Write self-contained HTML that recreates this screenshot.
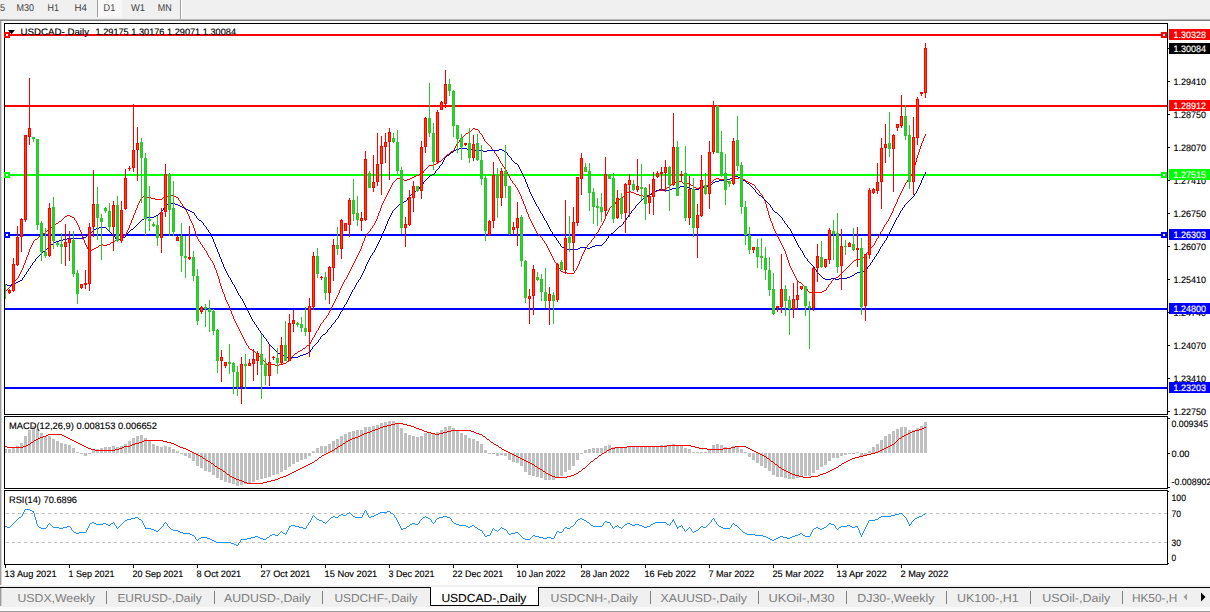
<!DOCTYPE html>
<html><head><meta charset="utf-8"><title>USDCAD-,Daily</title>
<style>html,body{margin:0;padding:0;background:#fff;overflow:hidden}body{width:1210px;height:612px;font-family:"Liberation Sans",sans-serif}svg text{font-family:"Liberation Sans",sans-serif;text-rendering:geometricPrecision}</style></head>
<body>
<svg width="1210" height="612" viewBox="0 0 1210 612" font-family='"Liberation Sans", sans-serif' style="display:block"><rect x="0" y="0" width="1210" height="612" fill="#ffffff" />
<rect x="0" y="0" width="1210" height="19" fill="#f0f0f0" />
<rect x="0" y="19" width="1210" height="1" fill="#b4b4b4" />
<rect x="0" y="20" width="1210" height="1" fill="#7e7e7e" />
<rect x="97" y="0" width="25" height="17" fill="#f8f8f8" />
<rect x="97" y="0" width="1" height="17" fill="#a0a0a0" />
<rect x="180" y="0" width="1" height="19" fill="#a0a0a0" />
<rect x="181" y="0" width="1" height="19" fill="#ffffff" />
<text x="-5.2" y="10.8" font-size="10" fill="#404040" text-anchor="start" font-weight="normal" textLength="10.2" lengthAdjust="spacingAndGlyphs" >15</text>
<text x="16.5" y="10.8" font-size="10" fill="#404040" text-anchor="start" font-weight="normal" textLength="17.5" lengthAdjust="spacingAndGlyphs" >M30</text>
<text x="47.6" y="10.8" font-size="10" fill="#404040" text-anchor="start" font-weight="normal" textLength="11.4" lengthAdjust="spacingAndGlyphs" >H1</text>
<text x="74.4" y="10.8" font-size="10" fill="#404040" text-anchor="start" font-weight="normal" textLength="12.4" lengthAdjust="spacingAndGlyphs" >H4</text>
<text x="103.6" y="10.8" font-size="10" fill="#404040" text-anchor="start" font-weight="normal" textLength="11.6" lengthAdjust="spacingAndGlyphs" >D1</text>
<text x="131" y="10.8" font-size="10" fill="#404040" text-anchor="start" font-weight="normal" textLength="14" lengthAdjust="spacingAndGlyphs" >W1</text>
<text x="157.7" y="10.8" font-size="10" fill="#404040" text-anchor="start" font-weight="normal" textLength="14" lengthAdjust="spacingAndGlyphs" >MN</text>
<rect x="0" y="21" width="1.4" height="564.5" fill="#9c9c9c" />
<clipPath id="cm"><rect x="5" y="24" width="1162" height="390"/></clipPath>
<rect x="5" y="34" width="1162" height="2" fill="#ff0000" />
<rect x="5" y="105" width="1162" height="2" fill="#ff0000" />
<rect x="5" y="174" width="1162" height="2" fill="#00ff00" />
<rect x="5" y="234" width="1162" height="2" fill="#0000ff" />
<rect x="5" y="308" width="1162" height="2" fill="#0000ff" />
<rect x="5" y="387" width="1162" height="2" fill="#0000ff" />
<path d="M473 128h2v1h-2zM472 129h1v1h-1zM475 129h3v1h-3zM471 130h1v1h-1zM478 130h1v1h-1zM470 131h1v1h-1zM479 131h1v2h-1zM468 132h2v1h-2zM466 133h2v1h-2zM480 133h1v1h-1zM465 134h1v1h-1zM481 134h1v1h-1zM925 134h1v2h-1zM464 135h1v1h-1zM482 135h1v2h-1zM463 136h1v1h-1zM924 136h1v2h-1zM462 137h1v1h-1zM483 137h1v2h-1zM461 138h1v1h-1zM923 138h1v3h-1zM460 139h1v1h-1zM484 139h1v2h-1zM459 140h1v2h-1zM485 141h1v1h-1zM922 141h1v2h-1zM458 142h1v1h-1zM486 142h1v1h-1zM457 143h1v1h-1zM487 143h1v1h-1zM921 143h1v3h-1zM488 144h1v1h-1zM456 144h1v2h-1zM489 145h1v1h-1zM490 146h1v1h-1zM455 146h1v2h-1zM920 146h1v3h-1zM491 147h1v2h-1zM454 148h1v2h-1zM492 149h1v1h-1zM919 149h1v3h-1zM453 150h1v1h-1zM493 150h1v1h-1zM451 151h2v1h-2zM494 151h1v2h-1zM450 152h1v1h-1zM918 152h1v3h-1zM449 153h1v1h-1zM495 153h1v1h-1zM447 154h2v1h-2zM496 154h1v2h-1zM446 155h1v1h-1zM917 155h1v3h-1zM445 156h1v1h-1zM497 156h1v1h-1zM444 157h1v1h-1zM498 157h1v2h-1zM443 158h1v1h-1zM916 158h1v4h-1zM442 159h1v1h-1zM499 159h1v2h-1zM441 160h1v1h-1zM439 161h2v1h-2zM500 161h1v2h-1zM438 162h1v1h-1zM915 162h1v3h-1zM436 163h2v1h-2zM501 163h1v1h-1zM434 164h2v1h-2zM502 164h1v2h-1zM429 165h5v1h-5zM914 165h1v4h-1zM428 166h1v1h-1zM503 166h1v1h-1zM427 167h1v1h-1zM504 167h1v2h-1zM426 168h1v1h-1zM425 169h1v1h-1zM505 169h1v1h-1zM913 169h1v3h-1zM424 170h1v1h-1zM506 170h1v2h-1zM423 171h1v2h-1zM507 172h1v2h-1zM912 172h1v2h-1zM422 173h1v1h-1zM419 174h3v1h-3zM508 174h1v2h-1zM911 174h1v2h-1zM416 175h3v1h-3zM414 176h2v1h-2zM509 176h1v2h-1zM910 176h1v2h-1zM412 177h2v1h-2zM739 177h3v1h-3zM397 178h5v1h-5zM410 178h2v1h-2zM716 178h3v1h-3zM733 178h6v1h-6zM742 178h1v1h-1zM909 178h1v1h-1zM510 178h1v2h-1zM396 179h1v1h-1zM402 179h2v1h-2zM407 179h3v1h-3zM714 179h2v1h-2zM719 179h7v1h-7zM732 179h1v1h-1zM743 179h2v1h-2zM908 179h1v1h-1zM395 180h1v1h-1zM404 180h3v1h-3zM511 180h1v1h-1zM713 180h1v1h-1zM726 180h1v1h-1zM731 180h1v1h-1zM745 180h1v1h-1zM907 180h1v2h-1zM394 181h1v1h-1zM679 181h3v1h-3zM712 181h1v1h-1zM727 181h2v1h-2zM730 181h1v1h-1zM746 181h2v1h-2zM512 181h1v2h-1zM393 182h1v1h-1zM675 182h4v1h-4zM682 182h1v1h-1zM711 182h1v1h-1zM729 182h1v1h-1zM748 182h2v1h-2zM906 182h1v1h-1zM513 183h1v1h-1zM673 183h2v1h-2zM683 183h2v1h-2zM687 183h3v1h-3zM710 183h1v1h-1zM750 183h2v1h-2zM392 183h1v2h-1zM905 183h1v2h-1zM514 184h1v1h-1zM671 184h2v1h-2zM685 184h2v1h-2zM690 184h1v1h-1zM708 184h2v1h-2zM752 184h2v1h-2zM670 185h1v1h-1zM691 185h2v1h-2zM706 185h2v1h-2zM754 185h1v1h-1zM391 185h1v2h-1zM515 185h1v2h-1zM904 185h1v2h-1zM669 186h1v1h-1zM693 186h1v1h-1zM703 186h3v1h-3zM755 186h1v2h-1zM516 187h1v1h-1zM667 187h2v1h-2zM694 187h2v1h-2zM699 187h4v1h-4zM390 187h1v2h-1zM903 187h1v2h-1zM666 188h1v1h-1zM696 188h3v1h-3zM756 188h1v1h-1zM517 188h1v2h-1zM663 189h3v1h-3zM757 189h1v1h-1zM389 189h1v2h-1zM902 189h1v2h-1zM657 190h6v1h-6zM758 190h1v1h-1zM518 190h1v2h-1zM629 191h2v1h-2zM655 191h2v1h-2zM388 191h1v2h-1zM759 191h1v2h-1zM901 191h1v2h-1zM627 192h2v1h-2zM631 192h3v1h-3zM654 192h1v1h-1zM519 192h1v2h-1zM626 193h1v1h-1zM634 193h2v1h-2zM652 193h2v1h-2zM760 193h1v1h-1zM387 193h1v2h-1zM900 193h1v2h-1zM625 194h1v1h-1zM636 194h3v1h-3zM650 194h2v1h-2zM761 194h1v1h-1zM520 194h1v2h-1zM165 195h2v1h-2zM171 195h3v1h-3zM624 195h1v1h-1zM639 195h4v1h-4zM647 195h3v1h-3zM386 195h1v2h-1zM762 195h1v2h-1zM899 195h1v2h-1zM143 196h4v1h-4zM164 196h1v1h-1zM167 196h4v1h-4zM174 196h2v1h-2zM623 196h1v1h-1zM643 196h4v1h-4zM521 196h1v3h-1zM142 197h1v1h-1zM147 197h4v1h-4zM163 197h1v1h-1zM176 197h2v1h-2zM622 197h1v1h-1zM141 197h1v2h-1zM385 197h1v2h-1zM763 197h1v2h-1zM898 197h1v2h-1zM151 198h4v1h-4zM162 198h1v1h-1zM620 198h2v1h-2zM178 198h1v2h-1zM155 199h7v1h-7zM618 199h2v1h-2zM140 199h1v2h-1zM384 199h1v2h-1zM522 199h1v2h-1zM764 199h1v2h-1zM897 199h1v3h-1zM179 200h1v1h-1zM617 200h1v1h-1zM616 201h1v1h-1zM139 201h1v2h-1zM180 201h1v2h-1zM383 201h1v2h-1zM523 201h1v3h-1zM765 201h1v3h-1zM615 202h1v2h-1zM896 202h1v2h-1zM181 203h1v1h-1zM138 203h1v2h-1zM382 203h1v2h-1zM614 204h1v1h-1zM182 204h1v2h-1zM524 204h1v2h-1zM895 204h1v2h-1zM766 204h1v4h-1zM613 205h1v1h-1zM137 205h1v3h-1zM381 205h1v3h-1zM183 206h1v1h-1zM611 206h2v1h-2zM894 206h1v2h-1zM525 206h1v3h-1zM610 207h1v1h-1zM184 207h1v2h-1zM136 208h1v2h-1zM609 208h1v2h-1zM380 208h1v3h-1zM767 208h1v3h-1zM893 208h1v3h-1zM185 209h1v1h-1zM526 209h1v3h-1zM186 210h1v2h-1zM608 210h1v2h-1zM135 210h1v3h-1zM379 211h1v2h-1zM892 211h1v2h-1zM768 211h1v4h-1zM187 212h1v2h-1zM527 212h1v2h-1zM607 212h1v2h-1zM134 213h1v2h-1zM891 213h1v2h-1zM378 213h1v3h-1zM188 214h1v2h-1zM606 214h1v2h-1zM528 214h1v3h-1zM67 215h3v1h-3zM890 215h1v2h-1zM133 215h1v3h-1zM769 215h1v3h-1zM65 216h2v1h-2zM70 216h2v1h-2zM189 216h1v3h-1zM377 216h1v3h-1zM605 216h1v3h-1zM64 217h1v1h-1zM72 217h2v1h-2zM529 217h1v2h-1zM889 217h1v2h-1zM63 218h1v1h-1zM74 218h1v2h-1zM132 218h1v2h-1zM770 218h1v3h-1zM62 219h1v1h-1zM190 219h1v2h-1zM376 219h1v2h-1zM530 219h1v2h-1zM604 219h1v2h-1zM888 219h1v2h-1zM61 220h1v1h-1zM75 220h1v1h-1zM131 220h1v3h-1zM59 221h2v1h-2zM887 221h1v1h-1zM76 221h1v2h-1zM191 221h1v2h-1zM375 221h1v2h-1zM531 221h1v2h-1zM603 221h1v2h-1zM771 221h1v2h-1zM58 222h1v1h-1zM886 222h1v2h-1zM56 223h2v1h-2zM77 223h1v2h-1zM130 223h1v2h-1zM192 223h1v2h-1zM374 223h1v2h-1zM532 223h1v2h-1zM602 223h1v2h-1zM772 223h1v3h-1zM54 224h2v1h-2zM885 224h1v1h-1zM53 225h1v1h-1zM373 225h1v1h-1zM601 225h1v1h-1zM78 225h1v2h-1zM533 225h1v2h-1zM884 225h1v2h-1zM129 225h1v3h-1zM193 225h1v3h-1zM52 226h1v1h-1zM372 226h1v2h-1zM600 226h1v2h-1zM773 226h1v3h-1zM51 227h1v1h-1zM534 227h1v2h-1zM883 227h1v2h-1zM79 227h1v3h-1zM50 228h1v1h-1zM371 228h1v1h-1zM128 228h1v2h-1zM599 228h1v2h-1zM194 228h1v3h-1zM49 229h1v1h-1zM370 229h1v2h-1zM535 229h1v2h-1zM774 229h1v2h-1zM882 229h1v2h-1zM47 230h2v1h-2zM80 230h1v2h-1zM127 230h1v2h-1zM598 230h1v2h-1zM46 231h1v1h-1zM369 231h1v1h-1zM881 231h1v1h-1zM536 231h1v2h-1zM775 231h1v2h-1zM195 231h1v3h-1zM45 232h1v1h-1zM368 232h1v1h-1zM597 232h1v1h-1zM126 232h1v2h-1zM880 232h1v2h-1zM81 232h1v3h-1zM43 233h2v1h-2zM537 233h1v1h-1zM367 233h1v2h-1zM596 233h1v2h-1zM776 233h1v2h-1zM42 234h1v1h-1zM125 234h1v1h-1zM538 234h1v1h-1zM879 234h1v2h-1zM196 234h1v3h-1zM41 235h1v1h-1zM124 235h1v1h-1zM366 235h1v1h-1zM539 235h1v1h-1zM595 235h1v1h-1zM777 235h1v2h-1zM82 235h1v3h-1zM39 236h2v1h-2zM123 236h1v1h-1zM540 236h1v1h-1zM365 236h1v2h-1zM594 236h1v2h-1zM878 236h1v2h-1zM38 237h1v1h-1zM122 237h1v1h-1zM541 237h1v1h-1zM197 237h1v2h-1zM778 237h1v2h-1zM37 238h1v1h-1zM120 238h2v1h-2zM593 238h1v1h-1zM877 238h1v1h-1zM83 238h1v2h-1zM542 238h1v2h-1zM364 238h1v3h-1zM35 239h2v1h-2zM118 239h2v1h-2zM592 239h1v1h-1zM198 239h1v2h-1zM779 239h1v2h-1zM876 239h1v2h-1zM34 240h1v1h-1zM115 240h3v1h-3zM543 240h1v1h-1zM591 240h1v2h-1zM84 240h1v3h-1zM113 241h2v1h-2zM199 241h1v1h-1zM33 241h1v2h-1zM363 241h1v2h-1zM544 241h1v2h-1zM780 241h1v2h-1zM875 241h1v2h-1zM111 242h2v1h-2zM590 242h1v1h-1zM200 242h1v2h-1zM110 243h1v1h-1zM545 243h1v1h-1zM589 243h1v1h-1zM32 243h1v2h-1zM85 243h1v2h-1zM781 243h1v2h-1zM874 243h1v2h-1zM362 243h1v3h-1zM101 244h2v1h-2zM107 244h3v1h-3zM201 244h1v1h-1zM588 244h1v1h-1zM546 244h1v2h-1zM99 245h2v1h-2zM103 245h4v1h-4zM873 245h1v1h-1zM31 245h1v2h-1zM86 245h1v2h-1zM202 245h1v2h-1zM587 245h1v2h-1zM782 245h1v2h-1zM98 246h1v1h-1zM872 246h1v1h-1zM547 246h1v2h-1zM361 246h1v3h-1zM96 247h2v1h-2zM203 247h1v1h-1zM586 247h1v1h-1zM871 247h1v1h-1zM30 247h1v2h-1zM87 247h1v2h-1zM783 247h1v2h-1zM94 248h2v1h-2zM870 248h1v1h-1zM204 248h1v2h-1zM548 248h1v2h-1zM585 248h1v2h-1zM92 249h2v1h-2zM869 249h1v1h-1zM88 249h1v2h-1zM360 249h1v2h-1zM784 249h1v2h-1zM29 249h1v3h-1zM90 250h2v1h-2zM205 250h1v1h-1zM549 250h1v2h-1zM584 250h1v2h-1zM868 250h1v2h-1zM89 251h1v1h-1zM206 251h1v2h-1zM359 251h1v2h-1zM785 251h1v3h-1zM867 252h1v1h-1zM550 252h1v2h-1zM583 252h1v2h-1zM28 252h1v3h-1zM207 253h1v2h-1zM358 253h1v2h-1zM866 253h1v2h-1zM551 254h1v2h-1zM582 254h1v2h-1zM786 254h1v3h-1zM865 255h1v1h-1zM27 255h1v2h-1zM208 255h1v2h-1zM357 255h1v2h-1zM864 256h1v1h-1zM552 256h1v2h-1zM581 256h1v3h-1zM209 257h1v1h-1zM863 257h1v1h-1zM356 257h1v2h-1zM26 257h1v3h-1zM787 257h1v3h-1zM862 258h1v1h-1zM210 258h1v2h-1zM553 258h1v2h-1zM856 259h6v1h-6zM355 259h1v2h-1zM580 259h1v2h-1zM211 260h1v1h-1zM854 260h2v1h-2zM554 260h1v2h-1zM25 260h1v3h-1zM788 260h1v3h-1zM853 261h1v1h-1zM212 261h1v2h-1zM354 261h1v2h-1zM579 261h1v3h-1zM555 262h1v1h-1zM852 262h1v1h-1zM851 263h1v1h-1zM24 263h1v2h-1zM213 263h1v2h-1zM353 263h1v2h-1zM556 263h1v2h-1zM789 263h1v3h-1zM850 264h1v1h-1zM578 264h1v2h-1zM557 265h1v1h-1zM849 265h1v1h-1zM352 265h1v2h-1zM23 265h1v3h-1zM214 265h1v3h-1zM848 266h1v1h-1zM558 266h1v2h-1zM577 266h1v2h-1zM790 266h1v2h-1zM847 267h1v1h-1zM351 267h1v2h-1zM559 268h1v1h-1zM846 268h1v1h-1zM22 268h1v2h-1zM215 268h1v2h-1zM576 268h1v2h-1zM791 268h1v2h-1zM845 269h1v1h-1zM350 269h1v2h-1zM560 269h1v2h-1zM575 270h1v1h-1zM844 270h1v1h-1zM21 270h1v2h-1zM792 270h1v2h-1zM216 270h1v3h-1zM561 271h2v1h-2zM843 271h1v1h-1zM349 271h1v2h-1zM574 271h1v2h-1zM563 272h4v1h-4zM842 272h1v1h-1zM20 272h1v2h-1zM793 272h1v2h-1zM567 273h7v1h-7zM841 273h1v1h-1zM348 273h1v2h-1zM217 273h1v3h-1zM840 274h1v1h-1zM19 274h1v2h-1zM794 274h1v2h-1zM839 275h1v1h-1zM347 275h1v2h-1zM838 276h1v1h-1zM18 276h1v2h-1zM795 276h1v2h-1zM218 276h1v3h-1zM836 277h2v1h-2zM346 277h1v2h-1zM17 278h1v1h-1zM834 278h2v1h-2zM796 278h1v2h-1zM16 279h1v1h-1zM345 279h1v1h-1zM833 279h1v1h-1zM219 279h1v4h-1zM15 280h1v1h-1zM797 280h1v1h-1zM832 280h1v1h-1zM344 280h1v2h-1zM14 281h1v1h-1zM798 281h1v1h-1zM831 281h1v2h-1zM13 282h1v1h-1zM799 282h2v1h-2zM343 282h1v2h-1zM12 283h1v1h-1zM801 283h1v1h-1zM830 283h1v1h-1zM220 283h1v3h-1zM802 284h1v1h-1zM829 284h1v1h-1zM11 284h1v2h-1zM342 284h1v2h-1zM803 285h1v1h-1zM828 285h1v2h-1zM10 286h1v1h-1zM804 286h1v1h-1zM341 286h1v2h-1zM221 286h1v3h-1zM9 287h1v1h-1zM805 287h1v1h-1zM827 287h1v1h-1zM8 288h1v1h-1zM806 288h1v1h-1zM340 288h1v2h-1zM826 288h1v2h-1zM7 289h1v1h-1zM807 289h1v2h-1zM222 289h1v3h-1zM6 290h1v1h-1zM824 290h2v1h-2zM339 290h1v3h-1zM5 291h1v1h-1zM808 291h1v1h-1zM822 291h2v1h-2zM809 292h13v1h-13zM223 292h1v2h-1zM338 293h1v2h-1zM224 294h1v3h-1zM337 295h1v2h-1zM336 297h1v2h-1zM225 297h1v3h-1zM335 299h1v2h-1zM226 300h1v2h-1zM334 301h1v2h-1zM227 302h1v2h-1zM333 303h1v2h-1zM228 304h1v2h-1zM332 305h1v2h-1zM229 306h1v3h-1zM331 307h1v2h-1zM230 309h1v2h-1zM330 309h1v2h-1zM329 311h1v2h-1zM231 311h1v3h-1zM328 313h1v2h-1zM232 314h1v2h-1zM327 315h1v1h-1zM326 316h1v2h-1zM233 316h1v3h-1zM325 318h1v1h-1zM324 319h1v1h-1zM234 319h1v2h-1zM323 320h1v2h-1zM235 321h1v2h-1zM322 322h1v1h-1zM321 323h1v1h-1zM236 323h1v2h-1zM320 324h1v2h-1zM237 325h1v2h-1zM319 326h1v2h-1zM238 327h1v2h-1zM318 328h1v2h-1zM239 329h1v2h-1zM317 330h1v1h-1zM240 331h1v2h-1zM316 331h1v2h-1zM241 333h1v2h-1zM315 333h1v2h-1zM242 335h1v2h-1zM314 335h1v2h-1zM313 337h1v1h-1zM243 337h1v2h-1zM312 338h1v2h-1zM244 339h1v2h-1zM311 340h1v2h-1zM245 341h1v2h-1zM310 342h1v2h-1zM246 343h1v2h-1zM309 344h1v1h-1zM247 345h1v1h-1zM307 345h2v1h-2zM306 346h1v1h-1zM248 346h1v2h-1zM305 347h1v1h-1zM249 348h1v1h-1zM303 348h2v1h-2zM250 349h2v1h-2zM302 349h1v1h-1zM252 350h2v1h-2zM300 350h2v1h-2zM254 351h1v1h-1zM298 351h2v1h-2zM255 352h1v1h-1zM297 352h1v1h-1zM256 353h1v1h-1zM295 353h2v1h-2zM257 354h1v1h-1zM294 354h1v1h-1zM258 355h1v1h-1zM293 355h1v1h-1zM259 356h1v1h-1zM292 356h1v1h-1zM260 357h1v1h-1zM291 357h1v2h-1zM261 358h1v1h-1zM262 359h1v1h-1zM290 359h1v1h-1zM263 360h1v1h-1zM289 360h1v1h-1zM264 361h1v1h-1zM287 361h2v1h-2zM265 362h1v1h-1zM286 362h1v1h-1zM266 363h1v1h-1zM283 363h3v1h-3zM267 364h2v1h-2zM271 364h4v1h-4zM279 364h4v1h-4zM269 365h2v1h-2zM275 365h4v1h-4z" fill="#ff0000" shape-rendering="crispEdges" />
<path d="M459 148h8v1h-8zM456 149h3v1h-3zM467 149h8v1h-8zM499 149h3v1h-3zM454 150h2v1h-2zM475 150h8v1h-8zM487 150h12v1h-12zM502 150h2v1h-2zM453 151h1v1h-1zM483 151h4v1h-4zM504 151h2v1h-2zM451 152h2v1h-2zM506 152h1v1h-1zM450 153h1v1h-1zM507 153h1v2h-1zM449 154h1v1h-1zM447 155h2v1h-2zM508 155h1v1h-1zM446 156h1v1h-1zM509 156h1v1h-1zM445 157h1v1h-1zM510 157h1v1h-1zM444 158h1v2h-1zM511 158h1v2h-1zM512 160h1v1h-1zM443 160h1v2h-1zM513 161h1v1h-1zM514 162h1v1h-1zM442 162h1v2h-1zM515 163h2v1h-2zM441 164h1v1h-1zM517 164h1v1h-1zM440 165h1v1h-1zM518 165h1v2h-1zM439 166h1v2h-1zM519 167h1v2h-1zM438 168h1v1h-1zM437 169h1v1h-1zM520 169h1v2h-1zM436 170h1v1h-1zM435 171h1v2h-1zM521 171h1v2h-1zM925 172h1v2h-1zM434 173h1v1h-1zM522 173h1v2h-1zM432 174h2v1h-2zM924 174h1v2h-1zM430 175h2v1h-2zM523 175h1v2h-1zM429 176h1v1h-1zM735 176h3v1h-3zM923 176h1v2h-1zM428 177h1v1h-1zM732 177h3v1h-3zM738 177h2v1h-2zM524 177h1v2h-1zM427 178h1v1h-1zM730 178h2v1h-2zM740 178h2v1h-2zM922 178h1v2h-1zM426 179h1v1h-1zM727 179h3v1h-3zM742 179h1v1h-1zM525 179h1v3h-1zM425 180h1v1h-1zM719 180h8v1h-8zM743 180h2v1h-2zM921 180h1v3h-1zM424 181h1v1h-1zM715 181h4v1h-4zM745 181h1v1h-1zM713 182h2v1h-2zM746 182h1v1h-1zM423 182h1v2h-1zM526 182h1v2h-1zM712 183h1v1h-1zM747 183h2v1h-2zM920 183h1v2h-1zM422 184h1v1h-1zM711 184h1v1h-1zM749 184h1v1h-1zM527 184h1v3h-1zM421 185h1v1h-1zM710 185h1v1h-1zM750 185h1v1h-1zM919 185h1v2h-1zM420 186h1v1h-1zM680 186h7v1h-7zM707 186h3v1h-3zM751 186h1v1h-1zM678 187h2v1h-2zM687 187h3v1h-3zM703 187h4v1h-4zM752 187h1v1h-1zM419 187h1v2h-1zM528 187h1v2h-1zM918 187h1v2h-1zM672 188h6v1h-6zM690 188h2v1h-2zM699 188h4v1h-4zM753 188h1v1h-1zM418 189h1v1h-1zM659 189h4v1h-4zM670 189h2v1h-2zM692 189h7v1h-7zM754 189h1v1h-1zM917 189h1v2h-1zM529 189h1v3h-1zM416 190h2v1h-2zM656 190h3v1h-3zM663 190h7v1h-7zM755 190h1v2h-1zM414 191h2v1h-2zM654 191h2v1h-2zM916 191h1v2h-1zM413 192h1v1h-1zM653 192h1v1h-1zM756 192h1v1h-1zM530 192h1v2h-1zM412 193h1v1h-1zM651 193h2v1h-2zM757 193h1v1h-1zM915 193h1v1h-1zM411 194h1v1h-1zM650 194h1v1h-1zM758 194h1v1h-1zM531 194h1v2h-1zM914 194h1v2h-1zM410 195h1v1h-1zM648 195h2v1h-2zM759 195h2v1h-2zM409 196h1v1h-1zM646 196h2v1h-2zM761 196h1v1h-1zM913 196h1v1h-1zM532 196h1v2h-1zM408 197h1v1h-1zM645 197h1v1h-1zM762 197h1v1h-1zM912 197h1v1h-1zM643 198h2v1h-2zM763 198h1v1h-1zM911 198h1v1h-1zM407 198h1v2h-1zM533 198h1v2h-1zM642 199h1v1h-1zM764 199h1v1h-1zM910 199h1v1h-1zM406 200h1v1h-1zM641 200h1v1h-1zM765 200h1v1h-1zM909 200h1v1h-1zM534 200h1v2h-1zM404 201h2v1h-2zM640 201h1v1h-1zM766 201h1v1h-1zM908 201h1v1h-1zM169 202h2v1h-2zM402 202h2v1h-2zM639 202h1v1h-1zM767 202h1v1h-1zM907 202h1v1h-1zM535 202h1v2h-1zM168 203h1v1h-1zM171 203h4v1h-4zM401 203h1v1h-1zM638 203h1v1h-1zM768 203h1v1h-1zM906 203h1v1h-1zM167 204h1v1h-1zM175 204h3v1h-3zM399 204h2v1h-2zM637 204h1v1h-1zM769 204h1v1h-1zM905 204h1v1h-1zM536 204h1v2h-1zM166 205h1v1h-1zM178 205h2v1h-2zM398 205h1v1h-1zM636 205h1v1h-1zM770 205h1v2h-1zM904 205h1v2h-1zM165 206h1v1h-1zM180 206h2v1h-2zM397 206h1v1h-1zM537 206h1v1h-1zM635 206h1v2h-1zM164 207h1v1h-1zM182 207h2v1h-2zM396 207h1v1h-1zM771 207h1v1h-1zM903 207h1v1h-1zM538 207h1v2h-1zM184 208h2v1h-2zM395 208h1v1h-1zM634 208h1v1h-1zM163 208h1v2h-1zM772 208h1v2h-1zM902 208h1v2h-1zM186 209h2v1h-2zM394 209h1v1h-1zM633 209h1v1h-1zM539 209h1v2h-1zM162 210h1v1h-1zM188 210h2v1h-2zM393 210h1v1h-1zM632 210h1v1h-1zM773 210h1v1h-1zM901 210h1v1h-1zM161 211h1v1h-1zM190 211h2v1h-2zM774 211h1v1h-1zM392 211h1v2h-1zM540 211h1v2h-1zM631 211h1v2h-1zM900 211h1v2h-1zM160 212h1v1h-1zM192 212h2v1h-2zM775 212h2v1h-2zM159 213h1v1h-1zM541 213h1v1h-1zM630 213h1v1h-1zM777 213h1v1h-1zM194 213h1v2h-1zM391 213h1v2h-1zM899 213h1v2h-1zM158 214h1v1h-1zM629 214h1v1h-1zM778 214h1v1h-1zM542 214h1v2h-1zM156 215h2v1h-2zM195 215h1v1h-1zM779 215h1v1h-1zM390 215h1v2h-1zM628 215h1v2h-1zM898 215h1v2h-1zM154 216h2v1h-2zM780 216h1v1h-1zM196 216h1v2h-1zM543 216h1v2h-1zM147 217h7v1h-7zM627 217h1v1h-1zM781 217h1v1h-1zM897 217h1v1h-1zM389 217h1v2h-1zM144 218h3v1h-3zM197 218h1v1h-1zM544 218h1v2h-1zM626 218h1v2h-1zM782 218h1v2h-1zM896 218h1v2h-1zM142 219h2v1h-2zM198 219h1v1h-1zM388 219h1v2h-1zM141 220h1v1h-1zM199 220h2v1h-2zM545 220h1v1h-1zM625 220h1v1h-1zM783 220h1v1h-1zM895 220h1v2h-1zM140 221h1v1h-1zM201 221h1v1h-1zM624 221h1v1h-1zM546 221h1v2h-1zM784 221h1v2h-1zM387 221h1v3h-1zM139 222h1v1h-1zM202 222h1v1h-1zM623 222h1v2h-1zM894 222h1v2h-1zM138 223h1v1h-1zM785 223h1v1h-1zM203 223h1v2h-1zM547 223h1v2h-1zM137 224h1v1h-1zM622 224h1v1h-1zM786 224h1v1h-1zM386 224h1v2h-1zM893 224h1v2h-1zM136 225h1v1h-1zM204 225h1v1h-1zM621 225h1v1h-1zM548 225h1v2h-1zM787 225h1v2h-1zM135 226h1v1h-1zM205 226h1v1h-1zM619 226h2v1h-2zM892 226h1v2h-1zM385 226h1v3h-1zM99 227h7v1h-7zM134 227h1v1h-1zM618 227h1v1h-1zM788 227h1v1h-1zM206 227h1v2h-1zM549 227h1v2h-1zM96 228h3v1h-3zM106 228h1v1h-1zM133 228h1v1h-1zM617 228h1v1h-1zM789 228h1v1h-1zM891 228h1v2h-1zM94 229h2v1h-2zM107 229h1v1h-1zM131 229h2v1h-2zM207 229h1v1h-1zM616 229h1v1h-1zM384 229h1v2h-1zM550 229h1v2h-1zM790 229h1v2h-1zM93 230h1v1h-1zM108 230h1v1h-1zM130 230h1v1h-1zM615 230h1v1h-1zM208 230h1v2h-1zM890 230h1v2h-1zM92 231h1v1h-1zM109 231h1v1h-1zM129 231h1v1h-1zM551 231h1v1h-1zM614 231h1v1h-1zM383 231h1v2h-1zM791 231h1v2h-1zM91 232h1v1h-1zM110 232h1v1h-1zM128 232h1v1h-1zM209 232h1v1h-1zM613 232h1v1h-1zM552 232h1v2h-1zM889 232h1v2h-1zM90 233h1v1h-1zM111 233h1v1h-1zM611 233h2v1h-2zM127 233h1v2h-1zM210 233h1v2h-1zM382 233h1v2h-1zM792 233h1v2h-1zM89 234h1v1h-1zM112 234h1v1h-1zM553 234h1v1h-1zM610 234h1v1h-1zM888 234h1v2h-1zM87 235h2v1h-2zM113 235h1v1h-1zM126 235h1v1h-1zM609 235h1v1h-1zM211 235h1v2h-1zM554 235h1v2h-1zM793 235h1v2h-1zM381 235h1v3h-1zM86 236h1v1h-1zM114 236h1v1h-1zM125 236h1v1h-1zM608 236h1v2h-1zM887 236h1v2h-1zM83 237h3v1h-3zM123 237h2v1h-2zM555 237h1v1h-1zM115 237h1v2h-1zM212 237h1v2h-1zM794 237h1v2h-1zM67 238h16v1h-16zM122 238h1v1h-1zM607 238h1v1h-1zM380 238h1v2h-1zM556 238h1v2h-1zM886 238h1v2h-1zM63 239h4v1h-4zM116 239h1v1h-1zM119 239h3v1h-3zM606 239h1v2h-1zM795 239h1v2h-1zM213 239h1v3h-1zM59 240h4v1h-4zM117 240h2v1h-2zM557 240h1v1h-1zM885 240h1v1h-1zM379 240h1v2h-1zM56 241h3v1h-3zM605 241h1v1h-1zM558 241h1v2h-1zM796 241h1v2h-1zM884 241h1v2h-1zM54 242h2v1h-2zM604 242h1v1h-1zM214 242h1v2h-1zM378 242h1v2h-1zM53 243h1v1h-1zM559 243h1v1h-1zM603 243h1v1h-1zM883 243h1v1h-1zM797 243h1v2h-1zM51 244h2v1h-2zM602 244h1v1h-1zM377 244h1v2h-1zM560 244h1v2h-1zM882 244h1v2h-1zM215 244h1v3h-1zM50 245h1v1h-1zM595 245h7v1h-7zM798 245h1v2h-1zM49 246h1v1h-1zM561 246h1v1h-1zM592 246h3v1h-3zM881 246h1v1h-1zM376 246h1v2h-1zM48 247h1v1h-1zM562 247h2v1h-2zM580 247h7v1h-7zM590 247h2v1h-2zM799 247h1v1h-1zM216 247h1v2h-1zM880 247h1v2h-1zM47 248h1v1h-1zM564 248h3v1h-3zM578 248h2v1h-2zM587 248h3v1h-3zM375 248h1v2h-1zM800 248h1v2h-1zM46 249h1v1h-1zM567 249h11v1h-11zM879 249h1v2h-1zM217 249h1v3h-1zM45 250h1v1h-1zM801 250h1v1h-1zM374 250h1v2h-1zM43 251h2v1h-2zM802 251h1v2h-1zM878 251h1v2h-1zM42 252h1v1h-1zM373 252h1v1h-1zM218 252h1v2h-1zM41 253h1v1h-1zM877 253h1v1h-1zM372 253h1v2h-1zM803 253h1v2h-1zM40 254h1v1h-1zM876 254h1v2h-1zM219 254h1v3h-1zM39 255h1v1h-1zM371 255h1v1h-1zM804 255h1v2h-1zM38 256h1v1h-1zM875 256h1v1h-1zM370 256h1v2h-1zM37 257h1v1h-1zM805 257h1v1h-1zM220 257h1v2h-1zM874 257h1v2h-1zM36 258h1v1h-1zM806 258h1v1h-1zM369 258h1v2h-1zM873 259h1v1h-1zM35 259h1v2h-1zM807 259h1v2h-1zM221 259h1v3h-1zM368 260h1v2h-1zM872 260h1v2h-1zM34 261h1v1h-1zM808 261h1v1h-1zM33 262h1v1h-1zM809 262h1v1h-1zM871 262h1v1h-1zM222 262h1v2h-1zM367 262h1v2h-1zM810 263h1v1h-1zM32 263h1v2h-1zM870 263h1v2h-1zM811 264h1v1h-1zM366 264h1v2h-1zM223 264h1v3h-1zM31 265h1v1h-1zM812 265h1v1h-1zM869 265h1v1h-1zM813 266h1v1h-1zM868 266h1v1h-1zM30 266h1v2h-1zM365 266h1v3h-1zM224 267h1v2h-1zM814 267h1v2h-1zM867 267h1v2h-1zM29 268h1v1h-1zM815 269h1v1h-1zM866 269h1v1h-1zM28 269h1v2h-1zM225 269h1v2h-1zM364 269h1v2h-1zM864 270h2v1h-2zM816 270h1v2h-1zM27 271h1v1h-1zM862 271h2v1h-2zM226 271h1v2h-1zM363 271h1v2h-1zM817 272h1v1h-1zM857 272h5v1h-5zM26 272h1v2h-1zM818 273h1v1h-1zM855 273h2v1h-2zM227 273h1v2h-1zM362 273h1v2h-1zM25 274h1v1h-1zM819 274h1v1h-1zM854 274h1v1h-1zM820 275h1v1h-1zM852 275h2v1h-2zM24 275h1v2h-1zM228 275h1v2h-1zM361 275h1v2h-1zM821 276h1v1h-1zM850 276h2v1h-2zM23 277h1v1h-1zM229 277h1v1h-1zM822 277h1v1h-1zM847 277h3v1h-3zM360 277h1v2h-1zM823 278h2v1h-2zM831 278h4v1h-4zM839 278h8v1h-8zM22 278h1v2h-1zM230 278h1v2h-1zM359 279h1v1h-1zM825 279h6v1h-6zM835 279h4v1h-4zM20 280h2v1h-2zM231 280h1v2h-1zM358 280h1v2h-1zM18 281h2v1h-2zM16 282h2v1h-2zM357 282h1v1h-1zM232 282h1v2h-1zM14 283h2v1h-2zM356 283h1v2h-1zM5 284h2v1h-2zM11 284h3v1h-3zM233 284h1v1h-1zM7 285h4v1h-4zM234 285h1v2h-1zM355 285h1v2h-1zM235 287h1v2h-1zM354 287h1v2h-1zM353 289h1v1h-1zM236 289h1v2h-1zM352 290h1v2h-1zM237 291h1v2h-1zM351 292h1v2h-1zM238 293h1v2h-1zM350 294h1v2h-1zM239 295h1v1h-1zM240 296h1v2h-1zM349 296h1v2h-1zM241 298h1v1h-1zM348 298h1v2h-1zM242 299h1v2h-1zM347 300h1v2h-1zM243 301h1v2h-1zM346 302h1v2h-1zM244 303h1v2h-1zM345 304h1v1h-1zM245 305h1v2h-1zM344 305h1v2h-1zM246 307h1v2h-1zM343 307h1v2h-1zM247 309h1v2h-1zM342 309h1v2h-1zM341 311h1v1h-1zM248 311h1v2h-1zM340 312h1v2h-1zM249 313h1v2h-1zM339 314h1v2h-1zM250 315h1v2h-1zM338 316h1v2h-1zM251 317h1v2h-1zM337 318h1v1h-1zM336 319h1v1h-1zM252 319h1v2h-1zM335 320h1v2h-1zM253 321h1v1h-1zM334 322h1v1h-1zM254 322h1v2h-1zM333 323h1v1h-1zM255 324h1v1h-1zM332 324h1v1h-1zM256 325h1v2h-1zM331 325h1v2h-1zM257 327h1v1h-1zM330 327h1v1h-1zM329 328h1v1h-1zM258 328h1v2h-1zM328 329h1v1h-1zM259 330h1v1h-1zM327 330h1v2h-1zM260 331h1v2h-1zM326 332h1v1h-1zM261 333h1v1h-1zM325 333h1v1h-1zM262 334h1v1h-1zM323 334h2v1h-2zM322 335h1v1h-1zM263 335h1v2h-1zM321 336h1v1h-1zM264 337h1v1h-1zM320 337h1v2h-1zM265 338h1v1h-1zM319 339h1v1h-1zM266 339h1v2h-1zM318 340h1v2h-1zM267 341h1v1h-1zM317 342h1v1h-1zM268 342h1v2h-1zM316 343h1v1h-1zM269 344h1v1h-1zM315 344h1v1h-1zM270 345h1v1h-1zM314 345h1v1h-1zM271 346h1v1h-1zM313 346h1v1h-1zM272 347h1v1h-1zM312 347h1v2h-1zM273 348h1v1h-1zM274 349h1v1h-1zM311 349h1v1h-1zM275 350h1v1h-1zM310 350h1v2h-1zM276 351h1v1h-1zM277 352h1v1h-1zM308 352h2v1h-2zM278 353h2v1h-2zM306 353h2v1h-2zM280 354h2v1h-2zM303 354h3v1h-3zM282 355h2v1h-2zM300 355h3v1h-3zM284 356h3v1h-3zM298 356h2v1h-2zM287 357h11v1h-11z" fill="#0000c8" shape-rendering="crispEdges" />
<g clip-path="url(#cm)" shape-rendering="crispEdges">
<rect x="5" y="284" width="1" height="15" fill="#2ac82a" />
<rect x="9" y="289" width="1" height="5" fill="#ff0000" />
<rect x="8" y="290" width="3" height="3" fill="#ff0000" />
<rect x="9" y="291" width="1" height="1" fill="#ff4500" />
<rect x="13" y="258" width="1" height="34" fill="#ff0000" />
<rect x="12" y="264" width="3" height="27" fill="#ff0000" />
<rect x="13" y="265" width="1" height="25" fill="#ff4500" />
<rect x="17" y="226" width="1" height="40" fill="#ff0000" />
<rect x="16" y="237" width="3" height="28" fill="#ff0000" />
<rect x="17" y="238" width="1" height="26" fill="#ff4500" />
<rect x="21" y="218" width="1" height="34" fill="#ff0000" />
<rect x="20" y="219" width="3" height="18" fill="#ff0000" />
<rect x="21" y="220" width="1" height="16" fill="#ff4500" />
<rect x="25" y="135" width="1" height="87" fill="#ff0000" />
<rect x="24" y="135" width="3" height="85" fill="#ff0000" />
<rect x="25" y="136" width="1" height="83" fill="#ff4500" />
<rect x="29" y="78" width="1" height="67" fill="#ff0000" />
<rect x="28" y="128" width="3" height="9" fill="#ff0000" />
<rect x="29" y="129" width="1" height="7" fill="#ff4500" />
<rect x="33" y="137" width="1" height="5" fill="#2ac82a" />
<rect x="32" y="137" width="3" height="2" fill="#2ac82a" />
<rect x="37" y="139" width="1" height="91" fill="#2ac82a" />
<rect x="36" y="139" width="3" height="86" fill="#2ac82a" />
<rect x="37" y="140" width="1" height="84" fill="#32cd32" />
<rect x="41" y="221" width="1" height="40" fill="#2ac82a" />
<rect x="40" y="223" width="3" height="29" fill="#2ac82a" />
<rect x="41" y="224" width="1" height="27" fill="#32cd32" />
<rect x="45" y="228" width="1" height="30" fill="#2ac82a" />
<rect x="44" y="252" width="3" height="4" fill="#2ac82a" />
<rect x="45" y="253" width="1" height="2" fill="#32cd32" />
<rect x="49" y="203" width="1" height="54" fill="#ff0000" />
<rect x="48" y="208" width="3" height="48" fill="#ff0000" />
<rect x="49" y="209" width="1" height="46" fill="#ff4500" />
<rect x="53" y="197" width="1" height="52" fill="#2ac82a" />
<rect x="52" y="207" width="3" height="34" fill="#2ac82a" />
<rect x="53" y="208" width="1" height="32" fill="#32cd32" />
<rect x="57" y="242" width="1" height="5" fill="#2ac82a" />
<rect x="56" y="243" width="3" height="2" fill="#2ac82a" />
<rect x="61" y="233" width="1" height="31" fill="#2ac82a" />
<rect x="60" y="244" width="3" height="3" fill="#2ac82a" />
<rect x="61" y="245" width="1" height="1" fill="#32cd32" />
<rect x="65" y="224" width="1" height="42" fill="#ff0000" />
<rect x="64" y="242" width="3" height="5" fill="#ff0000" />
<rect x="65" y="243" width="1" height="3" fill="#ff4500" />
<rect x="69" y="231" width="1" height="30" fill="#ff0000" />
<rect x="68" y="239" width="3" height="4" fill="#ff0000" />
<rect x="69" y="240" width="1" height="2" fill="#ff4500" />
<rect x="73" y="231" width="1" height="46" fill="#2ac82a" />
<rect x="72" y="240" width="3" height="34" fill="#2ac82a" />
<rect x="73" y="241" width="1" height="32" fill="#32cd32" />
<rect x="77" y="270" width="1" height="34" fill="#2ac82a" />
<rect x="76" y="273" width="3" height="21" fill="#2ac82a" />
<rect x="77" y="274" width="1" height="19" fill="#32cd32" />
<rect x="81" y="284" width="1" height="5" fill="#ff0000" />
<rect x="80" y="284" width="3" height="4" fill="#ff0000" />
<rect x="81" y="285" width="1" height="2" fill="#ff4500" />
<rect x="85" y="270" width="1" height="19" fill="#ff0000" />
<rect x="84" y="283" width="3" height="2" fill="#ff0000" />
<rect x="89" y="223" width="1" height="68" fill="#ff0000" />
<rect x="88" y="227" width="3" height="57" fill="#ff0000" />
<rect x="89" y="228" width="1" height="55" fill="#ff4500" />
<rect x="93" y="170" width="1" height="67" fill="#ff0000" />
<rect x="92" y="204" width="3" height="23" fill="#ff0000" />
<rect x="93" y="205" width="1" height="21" fill="#ff4500" />
<rect x="97" y="187" width="1" height="53" fill="#2ac82a" />
<rect x="96" y="204" width="3" height="14" fill="#2ac82a" />
<rect x="97" y="205" width="1" height="12" fill="#32cd32" />
<rect x="101" y="214" width="1" height="46" fill="#2ac82a" />
<rect x="100" y="218" width="3" height="4" fill="#2ac82a" />
<rect x="101" y="219" width="1" height="2" fill="#32cd32" />
<rect x="105" y="207" width="1" height="6" fill="#2ac82a" />
<rect x="104" y="208" width="3" height="3" fill="#2ac82a" />
<rect x="105" y="209" width="1" height="1" fill="#32cd32" />
<rect x="109" y="203" width="1" height="28" fill="#2ac82a" />
<rect x="108" y="211" width="3" height="16" fill="#2ac82a" />
<rect x="109" y="212" width="1" height="14" fill="#32cd32" />
<rect x="113" y="201" width="1" height="50" fill="#ff0000" />
<rect x="112" y="205" width="3" height="22" fill="#ff0000" />
<rect x="113" y="206" width="1" height="20" fill="#ff4500" />
<rect x="117" y="196" width="1" height="46" fill="#2ac82a" />
<rect x="116" y="205" width="3" height="36" fill="#2ac82a" />
<rect x="117" y="206" width="1" height="34" fill="#32cd32" />
<rect x="121" y="201" width="1" height="42" fill="#ff0000" />
<rect x="120" y="210" width="3" height="31" fill="#ff0000" />
<rect x="121" y="211" width="1" height="29" fill="#ff4500" />
<rect x="125" y="169" width="1" height="41" fill="#ff0000" />
<rect x="124" y="178" width="3" height="31" fill="#ff0000" />
<rect x="125" y="179" width="1" height="29" fill="#ff4500" />
<rect x="129" y="166" width="1" height="5" fill="#ff0000" />
<rect x="128" y="168" width="3" height="1" fill="#ff0000" />
<rect x="133" y="104" width="1" height="68" fill="#ff0000" />
<rect x="132" y="150" width="3" height="18" fill="#ff0000" />
<rect x="133" y="151" width="1" height="16" fill="#ff4500" />
<rect x="137" y="127" width="1" height="54" fill="#ff0000" />
<rect x="136" y="143" width="3" height="7" fill="#ff0000" />
<rect x="137" y="144" width="1" height="5" fill="#ff4500" />
<rect x="141" y="138" width="1" height="65" fill="#2ac82a" />
<rect x="140" y="142" width="3" height="16" fill="#2ac82a" />
<rect x="141" y="143" width="1" height="14" fill="#32cd32" />
<rect x="145" y="153" width="1" height="82" fill="#2ac82a" />
<rect x="144" y="158" width="3" height="61" fill="#2ac82a" />
<rect x="145" y="159" width="1" height="59" fill="#32cd32" />
<rect x="149" y="186" width="1" height="45" fill="#2ac82a" />
<rect x="148" y="219" width="3" height="2" fill="#2ac82a" />
<rect x="153" y="222" width="1" height="5" fill="#2ac82a" />
<rect x="152" y="224" width="3" height="2" fill="#2ac82a" />
<rect x="157" y="216" width="1" height="30" fill="#2ac82a" />
<rect x="156" y="225" width="3" height="13" fill="#2ac82a" />
<rect x="157" y="226" width="1" height="11" fill="#32cd32" />
<rect x="161" y="208" width="1" height="45" fill="#ff0000" />
<rect x="160" y="212" width="3" height="26" fill="#ff0000" />
<rect x="161" y="213" width="1" height="24" fill="#ff4500" />
<rect x="165" y="164" width="1" height="53" fill="#ff0000" />
<rect x="164" y="174" width="3" height="38" fill="#ff0000" />
<rect x="165" y="175" width="1" height="36" fill="#ff4500" />
<rect x="169" y="173" width="1" height="63" fill="#2ac82a" />
<rect x="168" y="174" width="3" height="36" fill="#2ac82a" />
<rect x="169" y="175" width="1" height="34" fill="#32cd32" />
<rect x="173" y="181" width="1" height="55" fill="#2ac82a" />
<rect x="172" y="208" width="3" height="24" fill="#2ac82a" />
<rect x="173" y="209" width="1" height="22" fill="#32cd32" />
<rect x="177" y="236" width="1" height="5" fill="#ff0000" />
<rect x="176" y="237" width="3" height="4" fill="#ff0000" />
<rect x="177" y="238" width="1" height="2" fill="#ff4500" />
<rect x="181" y="223" width="1" height="49" fill="#2ac82a" />
<rect x="180" y="236" width="3" height="20" fill="#2ac82a" />
<rect x="181" y="237" width="1" height="18" fill="#32cd32" />
<rect x="185" y="236" width="1" height="42" fill="#2ac82a" />
<rect x="184" y="256" width="3" height="2" fill="#2ac82a" />
<rect x="189" y="226" width="1" height="34" fill="#ff0000" />
<rect x="188" y="257" width="3" height="2" fill="#ff0000" />
<rect x="193" y="251" width="1" height="30" fill="#2ac82a" />
<rect x="192" y="257" width="3" height="19" fill="#2ac82a" />
<rect x="193" y="258" width="1" height="17" fill="#32cd32" />
<rect x="197" y="269" width="1" height="56" fill="#2ac82a" />
<rect x="196" y="276" width="3" height="45" fill="#2ac82a" />
<rect x="197" y="277" width="1" height="43" fill="#32cd32" />
<rect x="201" y="306" width="1" height="8" fill="#ff0000" />
<rect x="200" y="307" width="3" height="5" fill="#ff0000" />
<rect x="201" y="308" width="1" height="3" fill="#ff4500" />
<rect x="205" y="304" width="1" height="23" fill="#2ac82a" />
<rect x="204" y="307" width="3" height="2" fill="#2ac82a" />
<rect x="209" y="300" width="1" height="32" fill="#2ac82a" />
<rect x="208" y="309" width="3" height="3" fill="#2ac82a" />
<rect x="209" y="310" width="1" height="1" fill="#32cd32" />
<rect x="213" y="309" width="1" height="26" fill="#2ac82a" />
<rect x="212" y="311" width="3" height="20" fill="#2ac82a" />
<rect x="213" y="312" width="1" height="18" fill="#32cd32" />
<rect x="217" y="329" width="1" height="44" fill="#2ac82a" />
<rect x="216" y="330" width="3" height="31" fill="#2ac82a" />
<rect x="217" y="331" width="1" height="29" fill="#32cd32" />
<rect x="221" y="350" width="1" height="32" fill="#ff0000" />
<rect x="220" y="357" width="3" height="4" fill="#ff0000" />
<rect x="221" y="358" width="1" height="2" fill="#ff4500" />
<rect x="225" y="362" width="1" height="6" fill="#ff0000" />
<rect x="224" y="362" width="3" height="4" fill="#ff0000" />
<rect x="225" y="363" width="1" height="2" fill="#ff4500" />
<rect x="229" y="344" width="1" height="30" fill="#2ac82a" />
<rect x="228" y="362" width="3" height="2" fill="#2ac82a" />
<rect x="233" y="362" width="1" height="32" fill="#2ac82a" />
<rect x="232" y="363" width="3" height="9" fill="#2ac82a" />
<rect x="233" y="364" width="1" height="7" fill="#32cd32" />
<rect x="237" y="366" width="1" height="30" fill="#2ac82a" />
<rect x="236" y="372" width="3" height="15" fill="#2ac82a" />
<rect x="237" y="373" width="1" height="13" fill="#32cd32" />
<rect x="241" y="357" width="1" height="47" fill="#ff0000" />
<rect x="240" y="364" width="3" height="23" fill="#ff0000" />
<rect x="241" y="365" width="1" height="21" fill="#ff4500" />
<rect x="245" y="354" width="1" height="35" fill="#2ac82a" />
<rect x="244" y="364" width="3" height="2" fill="#2ac82a" />
<rect x="249" y="359" width="1" height="7" fill="#ff0000" />
<rect x="248" y="363" width="3" height="3" fill="#ff0000" />
<rect x="249" y="364" width="1" height="1" fill="#ff4500" />
<rect x="253" y="349" width="1" height="32" fill="#ff0000" />
<rect x="252" y="359" width="3" height="5" fill="#ff0000" />
<rect x="253" y="360" width="1" height="3" fill="#ff4500" />
<rect x="257" y="351" width="1" height="24" fill="#ff0000" />
<rect x="256" y="353" width="3" height="8" fill="#ff0000" />
<rect x="257" y="354" width="1" height="6" fill="#ff4500" />
<rect x="261" y="334" width="1" height="65" fill="#2ac82a" />
<rect x="260" y="354" width="3" height="11" fill="#2ac82a" />
<rect x="261" y="355" width="1" height="9" fill="#32cd32" />
<rect x="265" y="358" width="1" height="27" fill="#2ac82a" />
<rect x="264" y="364" width="3" height="12" fill="#2ac82a" />
<rect x="265" y="365" width="1" height="10" fill="#32cd32" />
<rect x="269" y="345" width="1" height="41" fill="#ff0000" />
<rect x="268" y="362" width="3" height="14" fill="#ff0000" />
<rect x="269" y="363" width="1" height="12" fill="#ff4500" />
<rect x="273" y="356" width="1" height="4" fill="#ff0000" />
<rect x="272" y="357" width="3" height="1" fill="#ff0000" />
<rect x="277" y="348" width="1" height="26" fill="#2ac82a" />
<rect x="276" y="358" width="3" height="5" fill="#2ac82a" />
<rect x="277" y="359" width="1" height="3" fill="#32cd32" />
<rect x="281" y="337" width="1" height="27" fill="#ff0000" />
<rect x="280" y="345" width="3" height="18" fill="#ff0000" />
<rect x="281" y="346" width="1" height="16" fill="#ff4500" />
<rect x="285" y="321" width="1" height="40" fill="#2ac82a" />
<rect x="284" y="345" width="3" height="16" fill="#2ac82a" />
<rect x="285" y="346" width="1" height="14" fill="#32cd32" />
<rect x="289" y="314" width="1" height="47" fill="#ff0000" />
<rect x="288" y="323" width="3" height="38" fill="#ff0000" />
<rect x="289" y="324" width="1" height="36" fill="#ff4500" />
<rect x="293" y="310" width="1" height="22" fill="#ff0000" />
<rect x="292" y="320" width="3" height="4" fill="#ff0000" />
<rect x="293" y="321" width="1" height="2" fill="#ff4500" />
<rect x="297" y="322" width="1" height="5" fill="#2ac82a" />
<rect x="296" y="323" width="3" height="2" fill="#2ac82a" />
<rect x="301" y="317" width="1" height="15" fill="#2ac82a" />
<rect x="300" y="324" width="3" height="4" fill="#2ac82a" />
<rect x="301" y="325" width="1" height="2" fill="#32cd32" />
<rect x="305" y="307" width="1" height="29" fill="#2ac82a" />
<rect x="304" y="328" width="3" height="4" fill="#2ac82a" />
<rect x="305" y="329" width="1" height="2" fill="#32cd32" />
<rect x="309" y="298" width="1" height="59" fill="#ff0000" />
<rect x="308" y="306" width="3" height="26" fill="#ff0000" />
<rect x="309" y="307" width="1" height="24" fill="#ff4500" />
<rect x="313" y="252" width="1" height="58" fill="#ff0000" />
<rect x="312" y="256" width="3" height="51" fill="#ff0000" />
<rect x="313" y="257" width="1" height="49" fill="#ff4500" />
<rect x="317" y="248" width="1" height="30" fill="#2ac82a" />
<rect x="316" y="256" width="3" height="18" fill="#2ac82a" />
<rect x="317" y="257" width="1" height="16" fill="#32cd32" />
<rect x="321" y="276" width="1" height="4" fill="#ff0000" />
<rect x="320" y="277" width="3" height="1" fill="#ff0000" />
<rect x="325" y="272" width="1" height="28" fill="#2ac82a" />
<rect x="324" y="277" width="3" height="16" fill="#2ac82a" />
<rect x="325" y="278" width="1" height="14" fill="#32cd32" />
<rect x="329" y="266" width="1" height="38" fill="#ff0000" />
<rect x="328" y="267" width="3" height="26" fill="#ff0000" />
<rect x="329" y="268" width="1" height="24" fill="#ff4500" />
<rect x="333" y="239" width="1" height="42" fill="#ff0000" />
<rect x="332" y="245" width="3" height="23" fill="#ff0000" />
<rect x="333" y="246" width="1" height="21" fill="#ff4500" />
<rect x="337" y="227" width="1" height="28" fill="#2ac82a" />
<rect x="336" y="245" width="3" height="4" fill="#2ac82a" />
<rect x="337" y="246" width="1" height="2" fill="#32cd32" />
<rect x="341" y="219" width="1" height="40" fill="#ff0000" />
<rect x="340" y="220" width="3" height="29" fill="#ff0000" />
<rect x="341" y="221" width="1" height="27" fill="#ff4500" />
<rect x="345" y="223" width="1" height="8" fill="#ff0000" />
<rect x="344" y="223" width="3" height="8" fill="#ff0000" />
<rect x="345" y="224" width="1" height="6" fill="#ff4500" />
<rect x="349" y="198" width="1" height="39" fill="#ff0000" />
<rect x="348" y="200" width="3" height="25" fill="#ff0000" />
<rect x="349" y="201" width="1" height="23" fill="#ff4500" />
<rect x="353" y="179" width="1" height="42" fill="#2ac82a" />
<rect x="352" y="200" width="3" height="14" fill="#2ac82a" />
<rect x="353" y="201" width="1" height="12" fill="#32cd32" />
<rect x="357" y="196" width="1" height="30" fill="#2ac82a" />
<rect x="356" y="213" width="3" height="7" fill="#2ac82a" />
<rect x="357" y="214" width="1" height="5" fill="#32cd32" />
<rect x="361" y="212" width="1" height="19" fill="#ff0000" />
<rect x="360" y="218" width="3" height="3" fill="#ff0000" />
<rect x="361" y="219" width="1" height="1" fill="#ff4500" />
<rect x="365" y="151" width="1" height="70" fill="#ff0000" />
<rect x="364" y="159" width="3" height="61" fill="#ff0000" />
<rect x="365" y="160" width="1" height="59" fill="#ff4500" />
<rect x="369" y="171" width="1" height="17" fill="#2ac82a" />
<rect x="368" y="173" width="3" height="15" fill="#2ac82a" />
<rect x="369" y="174" width="1" height="13" fill="#32cd32" />
<rect x="373" y="155" width="1" height="37" fill="#ff0000" />
<rect x="372" y="182" width="3" height="6" fill="#ff0000" />
<rect x="373" y="183" width="1" height="4" fill="#ff4500" />
<rect x="377" y="133" width="1" height="53" fill="#ff0000" />
<rect x="376" y="164" width="3" height="18" fill="#ff0000" />
<rect x="377" y="165" width="1" height="16" fill="#ff4500" />
<rect x="381" y="136" width="1" height="59" fill="#ff0000" />
<rect x="380" y="146" width="3" height="18" fill="#ff0000" />
<rect x="381" y="147" width="1" height="16" fill="#ff4500" />
<rect x="385" y="133" width="1" height="30" fill="#ff0000" />
<rect x="384" y="142" width="3" height="5" fill="#ff0000" />
<rect x="385" y="143" width="1" height="3" fill="#ff4500" />
<rect x="389" y="128" width="1" height="52" fill="#ff0000" />
<rect x="388" y="132" width="3" height="10" fill="#ff0000" />
<rect x="389" y="133" width="1" height="8" fill="#ff4500" />
<rect x="393" y="133" width="1" height="10" fill="#2ac82a" />
<rect x="392" y="138" width="3" height="4" fill="#2ac82a" />
<rect x="393" y="139" width="1" height="2" fill="#32cd32" />
<rect x="397" y="130" width="1" height="44" fill="#2ac82a" />
<rect x="396" y="142" width="3" height="29" fill="#2ac82a" />
<rect x="397" y="143" width="1" height="27" fill="#32cd32" />
<rect x="401" y="167" width="1" height="67" fill="#2ac82a" />
<rect x="400" y="170" width="3" height="58" fill="#2ac82a" />
<rect x="401" y="171" width="1" height="56" fill="#32cd32" />
<rect x="405" y="217" width="1" height="30" fill="#ff0000" />
<rect x="404" y="224" width="3" height="4" fill="#ff0000" />
<rect x="405" y="225" width="1" height="2" fill="#ff4500" />
<rect x="409" y="190" width="1" height="36" fill="#ff0000" />
<rect x="408" y="197" width="3" height="28" fill="#ff0000" />
<rect x="409" y="198" width="1" height="26" fill="#ff4500" />
<rect x="413" y="181" width="1" height="31" fill="#ff0000" />
<rect x="412" y="186" width="3" height="12" fill="#ff0000" />
<rect x="413" y="187" width="1" height="10" fill="#ff4500" />
<rect x="417" y="186" width="1" height="6" fill="#2ac82a" />
<rect x="416" y="186" width="3" height="5" fill="#2ac82a" />
<rect x="417" y="187" width="1" height="3" fill="#32cd32" />
<rect x="421" y="141" width="1" height="58" fill="#ff0000" />
<rect x="420" y="147" width="3" height="44" fill="#ff0000" />
<rect x="421" y="148" width="1" height="42" fill="#ff4500" />
<rect x="425" y="117" width="1" height="36" fill="#ff0000" />
<rect x="424" y="118" width="3" height="29" fill="#ff0000" />
<rect x="425" y="119" width="1" height="27" fill="#ff4500" />
<rect x="429" y="83" width="1" height="54" fill="#2ac82a" />
<rect x="428" y="118" width="3" height="15" fill="#2ac82a" />
<rect x="429" y="119" width="1" height="13" fill="#32cd32" />
<rect x="433" y="123" width="1" height="47" fill="#2ac82a" />
<rect x="432" y="133" width="3" height="29" fill="#2ac82a" />
<rect x="433" y="134" width="1" height="27" fill="#32cd32" />
<rect x="437" y="110" width="1" height="53" fill="#ff0000" />
<rect x="436" y="112" width="3" height="50" fill="#ff0000" />
<rect x="437" y="113" width="1" height="48" fill="#ff4500" />
<rect x="441" y="101" width="1" height="9" fill="#ff0000" />
<rect x="440" y="102" width="3" height="8" fill="#ff0000" />
<rect x="441" y="103" width="1" height="6" fill="#ff4500" />
<rect x="445" y="70" width="1" height="38" fill="#ff0000" />
<rect x="444" y="84" width="3" height="20" fill="#ff0000" />
<rect x="445" y="85" width="1" height="18" fill="#ff4500" />
<rect x="449" y="79" width="1" height="17" fill="#2ac82a" />
<rect x="448" y="84" width="3" height="7" fill="#2ac82a" />
<rect x="449" y="85" width="1" height="5" fill="#32cd32" />
<rect x="453" y="90" width="1" height="47" fill="#2ac82a" />
<rect x="452" y="91" width="3" height="35" fill="#2ac82a" />
<rect x="453" y="92" width="1" height="33" fill="#32cd32" />
<rect x="457" y="125" width="1" height="28" fill="#2ac82a" />
<rect x="456" y="125" width="3" height="14" fill="#2ac82a" />
<rect x="457" y="126" width="1" height="12" fill="#32cd32" />
<rect x="461" y="134" width="1" height="26" fill="#2ac82a" />
<rect x="460" y="138" width="3" height="9" fill="#2ac82a" />
<rect x="461" y="139" width="1" height="7" fill="#32cd32" />
<rect x="465" y="143" width="1" height="3" fill="#ff0000" />
<rect x="464" y="143" width="3" height="2" fill="#ff0000" />
<rect x="469" y="128" width="1" height="35" fill="#2ac82a" />
<rect x="468" y="143" width="3" height="15" fill="#2ac82a" />
<rect x="469" y="144" width="1" height="13" fill="#32cd32" />
<rect x="473" y="135" width="1" height="26" fill="#ff0000" />
<rect x="472" y="144" width="3" height="14" fill="#ff0000" />
<rect x="473" y="145" width="1" height="12" fill="#ff4500" />
<rect x="477" y="134" width="1" height="27" fill="#2ac82a" />
<rect x="476" y="143" width="3" height="17" fill="#2ac82a" />
<rect x="477" y="144" width="1" height="15" fill="#32cd32" />
<rect x="481" y="145" width="1" height="40" fill="#2ac82a" />
<rect x="480" y="160" width="3" height="19" fill="#2ac82a" />
<rect x="481" y="161" width="1" height="17" fill="#32cd32" />
<rect x="485" y="176" width="1" height="65" fill="#2ac82a" />
<rect x="484" y="178" width="3" height="53" fill="#2ac82a" />
<rect x="485" y="179" width="1" height="51" fill="#32cd32" />
<rect x="489" y="220" width="1" height="16" fill="#ff0000" />
<rect x="488" y="221" width="3" height="14" fill="#ff0000" />
<rect x="489" y="222" width="1" height="12" fill="#ff4500" />
<rect x="493" y="162" width="1" height="66" fill="#ff0000" />
<rect x="492" y="175" width="3" height="46" fill="#ff0000" />
<rect x="493" y="176" width="1" height="44" fill="#ff4500" />
<rect x="497" y="168" width="1" height="50" fill="#2ac82a" />
<rect x="496" y="175" width="3" height="23" fill="#2ac82a" />
<rect x="497" y="176" width="1" height="21" fill="#32cd32" />
<rect x="501" y="168" width="1" height="38" fill="#ff0000" />
<rect x="500" y="171" width="3" height="27" fill="#ff0000" />
<rect x="501" y="172" width="1" height="25" fill="#ff4500" />
<rect x="505" y="145" width="1" height="53" fill="#2ac82a" />
<rect x="504" y="171" width="3" height="15" fill="#2ac82a" />
<rect x="505" y="172" width="1" height="13" fill="#32cd32" />
<rect x="509" y="186" width="1" height="49" fill="#2ac82a" />
<rect x="508" y="186" width="3" height="48" fill="#2ac82a" />
<rect x="509" y="187" width="1" height="46" fill="#32cd32" />
<rect x="513" y="222" width="1" height="13" fill="#ff0000" />
<rect x="512" y="227" width="3" height="3" fill="#ff0000" />
<rect x="513" y="228" width="1" height="1" fill="#ff4500" />
<rect x="517" y="202" width="1" height="44" fill="#ff0000" />
<rect x="516" y="218" width="3" height="10" fill="#ff0000" />
<rect x="517" y="219" width="1" height="8" fill="#ff4500" />
<rect x="521" y="215" width="1" height="52" fill="#2ac82a" />
<rect x="520" y="217" width="3" height="44" fill="#2ac82a" />
<rect x="521" y="218" width="1" height="42" fill="#32cd32" />
<rect x="525" y="260" width="1" height="43" fill="#2ac82a" />
<rect x="524" y="261" width="3" height="37" fill="#2ac82a" />
<rect x="525" y="262" width="1" height="35" fill="#32cd32" />
<rect x="529" y="289" width="1" height="35" fill="#ff0000" />
<rect x="528" y="296" width="3" height="3" fill="#ff0000" />
<rect x="529" y="297" width="1" height="1" fill="#ff4500" />
<rect x="533" y="265" width="1" height="50" fill="#ff0000" />
<rect x="532" y="269" width="3" height="27" fill="#ff0000" />
<rect x="533" y="270" width="1" height="25" fill="#ff4500" />
<rect x="537" y="272" width="1" height="9" fill="#2ac82a" />
<rect x="536" y="277" width="3" height="3" fill="#2ac82a" />
<rect x="537" y="278" width="1" height="1" fill="#32cd32" />
<rect x="541" y="274" width="1" height="27" fill="#2ac82a" />
<rect x="540" y="279" width="3" height="13" fill="#2ac82a" />
<rect x="541" y="280" width="1" height="11" fill="#32cd32" />
<rect x="545" y="268" width="1" height="40" fill="#2ac82a" />
<rect x="544" y="292" width="3" height="9" fill="#2ac82a" />
<rect x="545" y="293" width="1" height="7" fill="#32cd32" />
<rect x="549" y="287" width="1" height="38" fill="#ff0000" />
<rect x="548" y="294" width="3" height="7" fill="#ff0000" />
<rect x="549" y="295" width="1" height="5" fill="#ff4500" />
<rect x="553" y="292" width="1" height="32" fill="#2ac82a" />
<rect x="552" y="295" width="3" height="6" fill="#2ac82a" />
<rect x="553" y="296" width="1" height="4" fill="#32cd32" />
<rect x="557" y="263" width="1" height="39" fill="#ff0000" />
<rect x="556" y="264" width="3" height="36" fill="#ff0000" />
<rect x="557" y="265" width="1" height="34" fill="#ff4500" />
<rect x="561" y="260" width="1" height="10" fill="#2ac82a" />
<rect x="560" y="262" width="3" height="8" fill="#2ac82a" />
<rect x="561" y="263" width="1" height="6" fill="#32cd32" />
<rect x="565" y="200" width="1" height="74" fill="#ff0000" />
<rect x="564" y="238" width="3" height="32" fill="#ff0000" />
<rect x="565" y="239" width="1" height="30" fill="#ff4500" />
<rect x="569" y="216" width="1" height="36" fill="#2ac82a" />
<rect x="568" y="237" width="3" height="6" fill="#2ac82a" />
<rect x="569" y="238" width="1" height="4" fill="#32cd32" />
<rect x="573" y="207" width="1" height="64" fill="#ff0000" />
<rect x="572" y="222" width="3" height="21" fill="#ff0000" />
<rect x="573" y="223" width="1" height="19" fill="#ff4500" />
<rect x="577" y="177" width="1" height="49" fill="#ff0000" />
<rect x="576" y="177" width="3" height="46" fill="#ff0000" />
<rect x="577" y="178" width="1" height="44" fill="#ff4500" />
<rect x="581" y="153" width="1" height="42" fill="#ff0000" />
<rect x="580" y="158" width="3" height="21" fill="#ff0000" />
<rect x="581" y="159" width="1" height="19" fill="#ff4500" />
<rect x="585" y="163" width="1" height="9" fill="#2ac82a" />
<rect x="584" y="167" width="3" height="5" fill="#2ac82a" />
<rect x="585" y="168" width="1" height="3" fill="#32cd32" />
<rect x="589" y="163" width="1" height="48" fill="#2ac82a" />
<rect x="588" y="171" width="3" height="22" fill="#2ac82a" />
<rect x="589" y="172" width="1" height="20" fill="#32cd32" />
<rect x="593" y="188" width="1" height="36" fill="#2ac82a" />
<rect x="592" y="192" width="3" height="15" fill="#2ac82a" />
<rect x="593" y="193" width="1" height="13" fill="#32cd32" />
<rect x="597" y="198" width="1" height="28" fill="#2ac82a" />
<rect x="596" y="206" width="3" height="2" fill="#2ac82a" />
<rect x="601" y="193" width="1" height="29" fill="#2ac82a" />
<rect x="600" y="207" width="3" height="5" fill="#2ac82a" />
<rect x="601" y="208" width="1" height="3" fill="#32cd32" />
<rect x="605" y="157" width="1" height="59" fill="#ff0000" />
<rect x="604" y="174" width="3" height="37" fill="#ff0000" />
<rect x="605" y="175" width="1" height="35" fill="#ff4500" />
<rect x="609" y="174" width="1" height="5" fill="#2ac82a" />
<rect x="608" y="175" width="3" height="4" fill="#2ac82a" />
<rect x="609" y="176" width="1" height="2" fill="#32cd32" />
<rect x="613" y="173" width="1" height="50" fill="#2ac82a" />
<rect x="612" y="178" width="3" height="41" fill="#2ac82a" />
<rect x="613" y="179" width="1" height="39" fill="#32cd32" />
<rect x="617" y="190" width="1" height="29" fill="#ff0000" />
<rect x="616" y="198" width="3" height="20" fill="#ff0000" />
<rect x="617" y="199" width="1" height="18" fill="#ff4500" />
<rect x="621" y="193" width="1" height="26" fill="#2ac82a" />
<rect x="620" y="198" width="3" height="16" fill="#2ac82a" />
<rect x="621" y="199" width="1" height="14" fill="#32cd32" />
<rect x="625" y="183" width="1" height="50" fill="#ff0000" />
<rect x="624" y="184" width="3" height="29" fill="#ff0000" />
<rect x="625" y="185" width="1" height="27" fill="#ff4500" />
<rect x="629" y="174" width="1" height="43" fill="#ff0000" />
<rect x="628" y="180" width="3" height="5" fill="#ff0000" />
<rect x="629" y="181" width="1" height="3" fill="#ff4500" />
<rect x="633" y="180" width="1" height="11" fill="#2ac82a" />
<rect x="632" y="184" width="3" height="6" fill="#2ac82a" />
<rect x="633" y="185" width="1" height="4" fill="#32cd32" />
<rect x="637" y="159" width="1" height="33" fill="#ff0000" />
<rect x="636" y="186" width="3" height="4" fill="#ff0000" />
<rect x="637" y="187" width="1" height="2" fill="#ff4500" />
<rect x="641" y="164" width="1" height="36" fill="#2ac82a" />
<rect x="640" y="187" width="3" height="2" fill="#2ac82a" />
<rect x="645" y="187" width="1" height="33" fill="#2ac82a" />
<rect x="644" y="188" width="3" height="16" fill="#2ac82a" />
<rect x="645" y="189" width="1" height="14" fill="#32cd32" />
<rect x="649" y="184" width="1" height="30" fill="#ff0000" />
<rect x="648" y="196" width="3" height="7" fill="#ff0000" />
<rect x="649" y="197" width="1" height="5" fill="#ff4500" />
<rect x="653" y="172" width="1" height="43" fill="#ff0000" />
<rect x="652" y="179" width="3" height="18" fill="#ff0000" />
<rect x="653" y="180" width="1" height="16" fill="#ff4500" />
<rect x="657" y="171" width="1" height="7" fill="#ff0000" />
<rect x="656" y="173" width="3" height="4" fill="#ff0000" />
<rect x="657" y="174" width="1" height="2" fill="#ff4500" />
<rect x="661" y="167" width="1" height="24" fill="#ff0000" />
<rect x="660" y="172" width="3" height="2" fill="#ff0000" />
<rect x="665" y="160" width="1" height="32" fill="#ff0000" />
<rect x="664" y="167" width="3" height="6" fill="#ff0000" />
<rect x="665" y="168" width="1" height="4" fill="#ff4500" />
<rect x="669" y="166" width="1" height="45" fill="#2ac82a" />
<rect x="668" y="167" width="3" height="18" fill="#2ac82a" />
<rect x="669" y="168" width="1" height="16" fill="#32cd32" />
<rect x="673" y="113" width="1" height="73" fill="#ff0000" />
<rect x="672" y="147" width="3" height="38" fill="#ff0000" />
<rect x="673" y="148" width="1" height="36" fill="#ff4500" />
<rect x="677" y="141" width="1" height="55" fill="#2ac82a" />
<rect x="676" y="147" width="3" height="49" fill="#2ac82a" />
<rect x="677" y="148" width="1" height="47" fill="#32cd32" />
<rect x="681" y="171" width="1" height="10" fill="#ff0000" />
<rect x="680" y="174" width="3" height="2" fill="#ff0000" />
<rect x="685" y="146" width="1" height="75" fill="#2ac82a" />
<rect x="684" y="173" width="3" height="45" fill="#2ac82a" />
<rect x="685" y="174" width="1" height="43" fill="#32cd32" />
<rect x="689" y="176" width="1" height="49" fill="#ff0000" />
<rect x="688" y="189" width="3" height="29" fill="#ff0000" />
<rect x="689" y="190" width="1" height="27" fill="#ff4500" />
<rect x="693" y="178" width="1" height="59" fill="#2ac82a" />
<rect x="692" y="189" width="3" height="39" fill="#2ac82a" />
<rect x="693" y="190" width="1" height="37" fill="#32cd32" />
<rect x="697" y="204" width="1" height="54" fill="#ff0000" />
<rect x="696" y="215" width="3" height="13" fill="#ff0000" />
<rect x="697" y="216" width="1" height="11" fill="#ff4500" />
<rect x="701" y="155" width="1" height="62" fill="#ff0000" />
<rect x="700" y="180" width="3" height="36" fill="#ff0000" />
<rect x="701" y="181" width="1" height="34" fill="#ff4500" />
<rect x="705" y="173" width="1" height="22" fill="#2ac82a" />
<rect x="704" y="185" width="3" height="9" fill="#2ac82a" />
<rect x="705" y="186" width="1" height="7" fill="#32cd32" />
<rect x="709" y="141" width="1" height="68" fill="#ff0000" />
<rect x="708" y="152" width="3" height="42" fill="#ff0000" />
<rect x="709" y="153" width="1" height="40" fill="#ff4500" />
<rect x="713" y="101" width="1" height="53" fill="#ff0000" />
<rect x="712" y="106" width="3" height="46" fill="#ff0000" />
<rect x="713" y="107" width="1" height="44" fill="#ff4500" />
<rect x="717" y="105" width="1" height="48" fill="#2ac82a" />
<rect x="716" y="106" width="3" height="47" fill="#2ac82a" />
<rect x="717" y="107" width="1" height="45" fill="#32cd32" />
<rect x="721" y="131" width="1" height="46" fill="#2ac82a" />
<rect x="720" y="152" width="3" height="24" fill="#2ac82a" />
<rect x="721" y="153" width="1" height="22" fill="#32cd32" />
<rect x="725" y="154" width="1" height="51" fill="#2ac82a" />
<rect x="724" y="173" width="3" height="17" fill="#2ac82a" />
<rect x="725" y="174" width="1" height="15" fill="#32cd32" />
<rect x="729" y="181" width="1" height="6" fill="#2ac82a" />
<rect x="728" y="181" width="3" height="3" fill="#2ac82a" />
<rect x="729" y="182" width="1" height="1" fill="#32cd32" />
<rect x="733" y="138" width="1" height="47" fill="#ff0000" />
<rect x="732" y="141" width="3" height="43" fill="#ff0000" />
<rect x="733" y="142" width="1" height="41" fill="#ff4500" />
<rect x="737" y="116" width="1" height="55" fill="#2ac82a" />
<rect x="736" y="140" width="3" height="26" fill="#2ac82a" />
<rect x="737" y="141" width="1" height="24" fill="#32cd32" />
<rect x="741" y="162" width="1" height="52" fill="#2ac82a" />
<rect x="740" y="165" width="3" height="42" fill="#2ac82a" />
<rect x="741" y="166" width="1" height="40" fill="#32cd32" />
<rect x="745" y="201" width="1" height="44" fill="#2ac82a" />
<rect x="744" y="207" width="3" height="28" fill="#2ac82a" />
<rect x="745" y="208" width="1" height="26" fill="#32cd32" />
<rect x="749" y="227" width="1" height="27" fill="#2ac82a" />
<rect x="748" y="235" width="3" height="15" fill="#2ac82a" />
<rect x="749" y="236" width="1" height="13" fill="#32cd32" />
<rect x="753" y="247" width="1" height="6" fill="#ff0000" />
<rect x="752" y="247" width="3" height="3" fill="#ff0000" />
<rect x="753" y="248" width="1" height="1" fill="#ff4500" />
<rect x="757" y="239" width="1" height="29" fill="#2ac82a" />
<rect x="756" y="247" width="3" height="10" fill="#2ac82a" />
<rect x="757" y="248" width="1" height="8" fill="#32cd32" />
<rect x="761" y="238" width="1" height="31" fill="#2ac82a" />
<rect x="760" y="256" width="3" height="2" fill="#2ac82a" />
<rect x="765" y="247" width="1" height="33" fill="#2ac82a" />
<rect x="764" y="258" width="3" height="12" fill="#2ac82a" />
<rect x="765" y="259" width="1" height="10" fill="#32cd32" />
<rect x="769" y="257" width="1" height="39" fill="#2ac82a" />
<rect x="768" y="270" width="3" height="20" fill="#2ac82a" />
<rect x="769" y="271" width="1" height="18" fill="#32cd32" />
<rect x="773" y="273" width="1" height="42" fill="#2ac82a" />
<rect x="772" y="289" width="3" height="25" fill="#2ac82a" />
<rect x="773" y="290" width="1" height="23" fill="#32cd32" />
<rect x="777" y="306" width="1" height="6" fill="#ff0000" />
<rect x="776" y="306" width="3" height="2" fill="#ff0000" />
<rect x="781" y="254" width="1" height="59" fill="#ff0000" />
<rect x="780" y="289" width="3" height="18" fill="#ff0000" />
<rect x="781" y="290" width="1" height="16" fill="#ff4500" />
<rect x="785" y="285" width="1" height="31" fill="#2ac82a" />
<rect x="784" y="289" width="3" height="12" fill="#2ac82a" />
<rect x="785" y="290" width="1" height="10" fill="#32cd32" />
<rect x="789" y="296" width="1" height="39" fill="#2ac82a" />
<rect x="788" y="300" width="3" height="9" fill="#2ac82a" />
<rect x="789" y="301" width="1" height="7" fill="#32cd32" />
<rect x="793" y="283" width="1" height="35" fill="#ff0000" />
<rect x="792" y="299" width="3" height="10" fill="#ff0000" />
<rect x="793" y="300" width="1" height="8" fill="#ff4500" />
<rect x="797" y="281" width="1" height="29" fill="#ff0000" />
<rect x="796" y="295" width="3" height="5" fill="#ff0000" />
<rect x="797" y="296" width="1" height="3" fill="#ff4500" />
<rect x="801" y="286" width="1" height="4" fill="#ff0000" />
<rect x="800" y="286" width="3" height="3" fill="#ff0000" />
<rect x="801" y="287" width="1" height="1" fill="#ff4500" />
<rect x="805" y="286" width="1" height="30" fill="#2ac82a" />
<rect x="804" y="286" width="3" height="20" fill="#2ac82a" />
<rect x="805" y="287" width="1" height="18" fill="#32cd32" />
<rect x="809" y="301" width="1" height="48" fill="#2ac82a" />
<rect x="808" y="306" width="3" height="2" fill="#2ac82a" />
<rect x="813" y="267" width="1" height="44" fill="#ff0000" />
<rect x="812" y="268" width="3" height="40" fill="#ff0000" />
<rect x="813" y="269" width="1" height="38" fill="#ff4500" />
<rect x="817" y="244" width="1" height="38" fill="#ff0000" />
<rect x="816" y="256" width="3" height="12" fill="#ff0000" />
<rect x="817" y="257" width="1" height="10" fill="#ff4500" />
<rect x="821" y="241" width="1" height="27" fill="#2ac82a" />
<rect x="820" y="257" width="3" height="10" fill="#2ac82a" />
<rect x="821" y="258" width="1" height="8" fill="#32cd32" />
<rect x="825" y="259" width="1" height="9" fill="#ff0000" />
<rect x="824" y="259" width="3" height="8" fill="#ff0000" />
<rect x="825" y="260" width="1" height="6" fill="#ff4500" />
<rect x="829" y="228" width="1" height="36" fill="#ff0000" />
<rect x="828" y="230" width="3" height="30" fill="#ff0000" />
<rect x="829" y="231" width="1" height="28" fill="#ff4500" />
<rect x="833" y="220" width="1" height="40" fill="#2ac82a" />
<rect x="832" y="231" width="3" height="3" fill="#2ac82a" />
<rect x="833" y="232" width="1" height="1" fill="#32cd32" />
<rect x="837" y="213" width="1" height="60" fill="#2ac82a" />
<rect x="836" y="233" width="3" height="34" fill="#2ac82a" />
<rect x="837" y="234" width="1" height="32" fill="#32cd32" />
<rect x="841" y="229" width="1" height="61" fill="#ff0000" />
<rect x="840" y="246" width="3" height="20" fill="#ff0000" />
<rect x="841" y="247" width="1" height="18" fill="#ff4500" />
<rect x="845" y="240" width="1" height="15" fill="#2ac82a" />
<rect x="844" y="246" width="3" height="1" fill="#2ac82a" />
<rect x="849" y="242" width="1" height="5" fill="#ff0000" />
<rect x="848" y="243" width="3" height="4" fill="#ff0000" />
<rect x="849" y="244" width="1" height="2" fill="#ff4500" />
<rect x="853" y="228" width="1" height="23" fill="#2ac82a" />
<rect x="852" y="244" width="3" height="6" fill="#2ac82a" />
<rect x="853" y="245" width="1" height="4" fill="#32cd32" />
<rect x="857" y="227" width="1" height="40" fill="#ff0000" />
<rect x="856" y="248" width="3" height="2" fill="#ff0000" />
<rect x="861" y="238" width="1" height="77" fill="#2ac82a" />
<rect x="860" y="248" width="3" height="59" fill="#2ac82a" />
<rect x="861" y="249" width="1" height="57" fill="#32cd32" />
<rect x="865" y="254" width="1" height="67" fill="#ff0000" />
<rect x="864" y="254" width="3" height="52" fill="#ff0000" />
<rect x="865" y="255" width="1" height="50" fill="#ff4500" />
<rect x="869" y="188" width="1" height="71" fill="#ff0000" />
<rect x="868" y="190" width="3" height="65" fill="#ff0000" />
<rect x="869" y="191" width="1" height="63" fill="#ff4500" />
<rect x="873" y="188" width="1" height="6" fill="#ff0000" />
<rect x="872" y="189" width="3" height="4" fill="#ff0000" />
<rect x="873" y="190" width="1" height="2" fill="#ff4500" />
<rect x="877" y="163" width="1" height="31" fill="#ff0000" />
<rect x="876" y="182" width="3" height="9" fill="#ff0000" />
<rect x="877" y="183" width="1" height="7" fill="#ff4500" />
<rect x="881" y="138" width="1" height="71" fill="#ff0000" />
<rect x="880" y="148" width="3" height="34" fill="#ff0000" />
<rect x="881" y="149" width="1" height="32" fill="#ff4500" />
<rect x="885" y="124" width="1" height="39" fill="#ff0000" />
<rect x="884" y="144" width="3" height="4" fill="#ff0000" />
<rect x="885" y="145" width="1" height="2" fill="#ff4500" />
<rect x="889" y="112" width="1" height="45" fill="#2ac82a" />
<rect x="888" y="143" width="3" height="6" fill="#2ac82a" />
<rect x="889" y="144" width="1" height="4" fill="#32cd32" />
<rect x="893" y="134" width="1" height="58" fill="#ff0000" />
<rect x="892" y="135" width="3" height="14" fill="#ff0000" />
<rect x="893" y="136" width="1" height="12" fill="#ff4500" />
<rect x="897" y="124" width="1" height="7" fill="#ff0000" />
<rect x="896" y="124" width="3" height="4" fill="#ff0000" />
<rect x="897" y="125" width="1" height="2" fill="#ff4500" />
<rect x="901" y="95" width="1" height="33" fill="#ff0000" />
<rect x="900" y="116" width="3" height="10" fill="#ff0000" />
<rect x="901" y="117" width="1" height="8" fill="#ff4500" />
<rect x="905" y="105" width="1" height="35" fill="#2ac82a" />
<rect x="904" y="116" width="3" height="20" fill="#2ac82a" />
<rect x="905" y="117" width="1" height="18" fill="#32cd32" />
<rect x="909" y="125" width="1" height="64" fill="#2ac82a" />
<rect x="908" y="135" width="3" height="47" fill="#2ac82a" />
<rect x="909" y="136" width="1" height="45" fill="#32cd32" />
<rect x="913" y="117" width="1" height="78" fill="#ff0000" />
<rect x="912" y="137" width="3" height="45" fill="#ff0000" />
<rect x="913" y="138" width="1" height="43" fill="#ff4500" />
<rect x="917" y="97" width="1" height="48" fill="#ff0000" />
<rect x="916" y="99" width="3" height="39" fill="#ff0000" />
<rect x="917" y="100" width="1" height="37" fill="#ff4500" />
<rect x="921" y="92" width="1" height="4" fill="#ff0000" />
<rect x="920" y="92" width="3" height="2" fill="#ff0000" />
<rect x="925" y="43" width="1" height="55" fill="#ff0000" />
<rect x="924" y="48" width="3" height="45" fill="#ff0000" />
<rect x="925" y="49" width="1" height="43" fill="#ff4500" />
</g>
<rect x="1168" y="411" width="2" height="1" fill="#000" />
<text x="1173.5" y="414.9" font-size="9.4" fill="#000" text-anchor="start" font-weight="normal" textLength="32.5" lengthAdjust="spacingAndGlyphs"  stroke="#000" stroke-width="0.15">1.22750</text>
<rect x="1168" y="378" width="2" height="1" fill="#000" />
<text x="1173.5" y="381.9" font-size="9.4" fill="#000" text-anchor="start" font-weight="normal" textLength="32.5" lengthAdjust="spacingAndGlyphs"  stroke="#000" stroke-width="0.15">1.23410</text>
<rect x="1168" y="345" width="2" height="1" fill="#000" />
<text x="1173.5" y="348.9" font-size="9.4" fill="#000" text-anchor="start" font-weight="normal" textLength="32.5" lengthAdjust="spacingAndGlyphs"  stroke="#000" stroke-width="0.15">1.24070</text>
<rect x="1168" y="312" width="2" height="1" fill="#000" />
<text x="1173.5" y="315.9" font-size="9.4" fill="#000" text-anchor="start" font-weight="normal" textLength="32.5" lengthAdjust="spacingAndGlyphs"  stroke="#000" stroke-width="0.15">1.24740</text>
<rect x="1168" y="279" width="2" height="1" fill="#000" />
<text x="1173.5" y="282.9" font-size="9.4" fill="#000" text-anchor="start" font-weight="normal" textLength="32.5" lengthAdjust="spacingAndGlyphs"  stroke="#000" stroke-width="0.15">1.25410</text>
<rect x="1168" y="246" width="2" height="1" fill="#000" />
<text x="1173.5" y="249.9" font-size="9.4" fill="#000" text-anchor="start" font-weight="normal" textLength="32.5" lengthAdjust="spacingAndGlyphs"  stroke="#000" stroke-width="0.15">1.26070</text>
<rect x="1168" y="213" width="2" height="1" fill="#000" />
<text x="1173.5" y="216.9" font-size="9.4" fill="#000" text-anchor="start" font-weight="normal" textLength="32.5" lengthAdjust="spacingAndGlyphs"  stroke="#000" stroke-width="0.15">1.26750</text>
<rect x="1168" y="180" width="2" height="1" fill="#000" />
<text x="1173.5" y="183.9" font-size="9.4" fill="#000" text-anchor="start" font-weight="normal" textLength="32.5" lengthAdjust="spacingAndGlyphs"  stroke="#000" stroke-width="0.15">1.27410</text>
<rect x="1168" y="147" width="2" height="1" fill="#000" />
<text x="1173.5" y="150.9" font-size="9.4" fill="#000" text-anchor="start" font-weight="normal" textLength="32.5" lengthAdjust="spacingAndGlyphs"  stroke="#000" stroke-width="0.15">1.28070</text>
<rect x="1168" y="114" width="2" height="1" fill="#000" />
<text x="1173.5" y="117.9" font-size="9.4" fill="#000" text-anchor="start" font-weight="normal" textLength="32.5" lengthAdjust="spacingAndGlyphs"  stroke="#000" stroke-width="0.15">1.28750</text>
<rect x="1168" y="81" width="2" height="1" fill="#000" />
<text x="1173.5" y="84.9" font-size="9.4" fill="#000" text-anchor="start" font-weight="normal" textLength="32.5" lengthAdjust="spacingAndGlyphs"  stroke="#000" stroke-width="0.15">1.29410</text>
<rect x="1168" y="48" width="2" height="1" fill="#000" />
<text x="1173.5" y="51.9" font-size="9.4" fill="#000" text-anchor="start" font-weight="normal" textLength="32.5" lengthAdjust="spacingAndGlyphs"  stroke="#000" stroke-width="0.15">1.30070</text>
<rect x="1169" y="29" width="41" height="11" fill="#ff0000" />
<text x="1173.5" y="38.4" font-size="9.4" fill="#fff" text-anchor="start" font-weight="normal" textLength="32.5" lengthAdjust="spacingAndGlyphs"  stroke="#fff" stroke-width="0.15">1.30328</text>
<rect x="1169" y="100" width="41" height="11" fill="#ff0000" />
<text x="1173.5" y="109.4" font-size="9.4" fill="#fff" text-anchor="start" font-weight="normal" textLength="32.5" lengthAdjust="spacingAndGlyphs"  stroke="#fff" stroke-width="0.15">1.28912</text>
<rect x="1169" y="169" width="41" height="11" fill="#00ff00" />
<text x="1173.5" y="178.4" font-size="9.4" fill="#fff" text-anchor="start" font-weight="normal" textLength="32.5" lengthAdjust="spacingAndGlyphs"  stroke="#fff" stroke-width="0.15">1.27515</text>
<rect x="1169" y="229" width="41" height="11" fill="#0000ff" />
<text x="1173.5" y="238.4" font-size="9.4" fill="#fff" text-anchor="start" font-weight="normal" textLength="32.5" lengthAdjust="spacingAndGlyphs"  stroke="#fff" stroke-width="0.15">1.26303</text>
<rect x="1169" y="303" width="41" height="11" fill="#0000ff" />
<text x="1173.5" y="312.4" font-size="9.4" fill="#fff" text-anchor="start" font-weight="normal" textLength="32.5" lengthAdjust="spacingAndGlyphs"  stroke="#fff" stroke-width="0.15">1.24800</text>
<rect x="1169" y="382" width="41" height="11" fill="#0000ff" />
<text x="1173.5" y="391.4" font-size="9.4" fill="#fff" text-anchor="start" font-weight="normal" textLength="32.5" lengthAdjust="spacingAndGlyphs"  stroke="#fff" stroke-width="0.15">1.23203</text>
<rect x="1169" y="43" width="41" height="11" fill="#000" />
<rect x="1168" y="48" width="2" height="1" fill="#000" />
<text x="1173.5" y="52.4" font-size="9.4" fill="#fff" text-anchor="start" font-weight="normal" textLength="32.5" lengthAdjust="spacingAndGlyphs"  stroke="#fff" stroke-width="0.15">1.30084</text>
<path d="M8 30 L15 30 L11.5 34.2 Z" fill="#000"/>
<text x="20.5" y="34.6" font-size="9.4" fill="#000" text-anchor="start" font-weight="normal" textLength="68.5" lengthAdjust="spacingAndGlyphs"  stroke="#000" stroke-width="0.15">USDCAD-,Daily</text>
<text x="95.5" y="34.6" font-size="9.4" fill="#000" text-anchor="start" font-weight="normal" textLength="140.5" lengthAdjust="spacingAndGlyphs"  stroke="#000" stroke-width="0.15">1.29175 1.30176 1.29071 1.30084</text>
<rect x="4" y="23" width="1164" height="1" fill="#000" />
<rect x="4" y="414" width="1164" height="1" fill="#000" />
<rect x="4" y="23" width="1" height="392" fill="#000" />
<rect x="1167" y="23" width="1" height="392" fill="#000" />
<rect x="4" y="32" width="6" height="6" fill="#ff0000" />
<rect x="6" y="34" width="2" height="2" fill="#fff" />
<rect x="1161" y="32" width="6" height="6" fill="#ff0000" />
<rect x="1163" y="34" width="2" height="2" fill="#fff" />
<rect x="4" y="172" width="6" height="6" fill="#00ff00" />
<rect x="6" y="174" width="2" height="2" fill="#fff" />
<rect x="1161" y="172" width="6" height="6" fill="#00ff00" />
<rect x="1163" y="174" width="2" height="2" fill="#fff" />
<rect x="4" y="232" width="6" height="6" fill="#0000ff" />
<rect x="6" y="234" width="2" height="2" fill="#fff" />
<rect x="1161" y="232" width="6" height="6" fill="#0000ff" />
<rect x="1163" y="234" width="2" height="2" fill="#fff" />
<g shape-rendering="crispEdges">
<rect x="4" y="449" width="3" height="4" fill="#c0c0c0" />
<rect x="8" y="449" width="3" height="4" fill="#c0c0c0" />
<rect x="12" y="448" width="3" height="5" fill="#c0c0c0" />
<rect x="16" y="446" width="3" height="7" fill="#c0c0c0" />
<rect x="20" y="443" width="3" height="10" fill="#c0c0c0" />
<rect x="24" y="436" width="3" height="17" fill="#c0c0c0" />
<rect x="28" y="430" width="3" height="23" fill="#c0c0c0" />
<rect x="32" y="426" width="3" height="27" fill="#c0c0c0" />
<rect x="36" y="429" width="3" height="24" fill="#c0c0c0" />
<rect x="40" y="433" width="3" height="20" fill="#c0c0c0" />
<rect x="44" y="436" width="3" height="17" fill="#c0c0c0" />
<rect x="48" y="436" width="3" height="17" fill="#c0c0c0" />
<rect x="52" y="439" width="3" height="14" fill="#c0c0c0" />
<rect x="56" y="441" width="3" height="12" fill="#c0c0c0" />
<rect x="60" y="443" width="3" height="10" fill="#c0c0c0" />
<rect x="64" y="444" width="3" height="9" fill="#c0c0c0" />
<rect x="68" y="445" width="3" height="8" fill="#c0c0c0" />
<rect x="72" y="448" width="3" height="5" fill="#c0c0c0" />
<rect x="76" y="452" width="3" height="1" fill="#c0c0c0" />
<rect x="80" y="453" width="3" height="1" fill="#c0c0c0" />
<rect x="84" y="453" width="3" height="3" fill="#c0c0c0" />
<rect x="88" y="453" width="3" height="1" fill="#c0c0c0" />
<rect x="92" y="450" width="3" height="3" fill="#c0c0c0" />
<rect x="96" y="449" width="3" height="4" fill="#c0c0c0" />
<rect x="100" y="448" width="3" height="5" fill="#c0c0c0" />
<rect x="104" y="447" width="3" height="6" fill="#c0c0c0" />
<rect x="108" y="447" width="3" height="6" fill="#c0c0c0" />
<rect x="112" y="446" width="3" height="7" fill="#c0c0c0" />
<rect x="116" y="447" width="3" height="6" fill="#c0c0c0" />
<rect x="120" y="446" width="3" height="7" fill="#c0c0c0" />
<rect x="124" y="444" width="3" height="9" fill="#c0c0c0" />
<rect x="128" y="441" width="3" height="12" fill="#c0c0c0" />
<rect x="132" y="438" width="3" height="15" fill="#c0c0c0" />
<rect x="136" y="436" width="3" height="17" fill="#c0c0c0" />
<rect x="140" y="435" width="3" height="18" fill="#c0c0c0" />
<rect x="144" y="438" width="3" height="15" fill="#c0c0c0" />
<rect x="148" y="441" width="3" height="12" fill="#c0c0c0" />
<rect x="152" y="444" width="3" height="9" fill="#c0c0c0" />
<rect x="156" y="446" width="3" height="7" fill="#c0c0c0" />
<rect x="160" y="447" width="3" height="6" fill="#c0c0c0" />
<rect x="164" y="446" width="3" height="7" fill="#c0c0c0" />
<rect x="168" y="447" width="3" height="6" fill="#c0c0c0" />
<rect x="172" y="449" width="3" height="4" fill="#c0c0c0" />
<rect x="176" y="451" width="3" height="2" fill="#c0c0c0" />
<rect x="180" y="453" width="3" height="1" fill="#c0c0c0" />
<rect x="184" y="453" width="3" height="3" fill="#c0c0c0" />
<rect x="188" y="453" width="3" height="5" fill="#c0c0c0" />
<rect x="192" y="453" width="3" height="8" fill="#c0c0c0" />
<rect x="196" y="453" width="3" height="13" fill="#c0c0c0" />
<rect x="200" y="453" width="3" height="15" fill="#c0c0c0" />
<rect x="204" y="453" width="3" height="18" fill="#c0c0c0" />
<rect x="208" y="453" width="3" height="19" fill="#c0c0c0" />
<rect x="212" y="453" width="3" height="22" fill="#c0c0c0" />
<rect x="216" y="453" width="3" height="25" fill="#c0c0c0" />
<rect x="220" y="453" width="3" height="27" fill="#c0c0c0" />
<rect x="224" y="453" width="3" height="29" fill="#c0c0c0" />
<rect x="228" y="453" width="3" height="30" fill="#c0c0c0" />
<rect x="232" y="453" width="3" height="31" fill="#c0c0c0" />
<rect x="236" y="453" width="3" height="33" fill="#c0c0c0" />
<rect x="240" y="453" width="3" height="32" fill="#c0c0c0" />
<rect x="244" y="453" width="3" height="31" fill="#c0c0c0" />
<rect x="248" y="453" width="3" height="30" fill="#c0c0c0" />
<rect x="252" y="453" width="3" height="29" fill="#c0c0c0" />
<rect x="256" y="453" width="3" height="27" fill="#c0c0c0" />
<rect x="260" y="453" width="3" height="26" fill="#c0c0c0" />
<rect x="264" y="453" width="3" height="25" fill="#c0c0c0" />
<rect x="268" y="453" width="3" height="24" fill="#c0c0c0" />
<rect x="272" y="453" width="3" height="22" fill="#c0c0c0" />
<rect x="276" y="453" width="3" height="21" fill="#c0c0c0" />
<rect x="280" y="453" width="3" height="19" fill="#c0c0c0" />
<rect x="284" y="453" width="3" height="17" fill="#c0c0c0" />
<rect x="288" y="453" width="3" height="14" fill="#c0c0c0" />
<rect x="292" y="453" width="3" height="11" fill="#c0c0c0" />
<rect x="296" y="453" width="3" height="9" fill="#c0c0c0" />
<rect x="300" y="453" width="3" height="7" fill="#c0c0c0" />
<rect x="304" y="453" width="3" height="6" fill="#c0c0c0" />
<rect x="308" y="453" width="3" height="3" fill="#c0c0c0" />
<rect x="312" y="451" width="3" height="2" fill="#c0c0c0" />
<rect x="316" y="448" width="3" height="5" fill="#c0c0c0" />
<rect x="320" y="446" width="3" height="7" fill="#c0c0c0" />
<rect x="324" y="446" width="3" height="7" fill="#c0c0c0" />
<rect x="328" y="444" width="3" height="9" fill="#c0c0c0" />
<rect x="332" y="441" width="3" height="12" fill="#c0c0c0" />
<rect x="336" y="439" width="3" height="14" fill="#c0c0c0" />
<rect x="340" y="436" width="3" height="17" fill="#c0c0c0" />
<rect x="344" y="434" width="3" height="19" fill="#c0c0c0" />
<rect x="348" y="432" width="3" height="21" fill="#c0c0c0" />
<rect x="352" y="431" width="3" height="22" fill="#c0c0c0" />
<rect x="356" y="430" width="3" height="23" fill="#c0c0c0" />
<rect x="360" y="430" width="3" height="23" fill="#c0c0c0" />
<rect x="364" y="427" width="3" height="26" fill="#c0c0c0" />
<rect x="368" y="427" width="3" height="26" fill="#c0c0c0" />
<rect x="372" y="426" width="3" height="27" fill="#c0c0c0" />
<rect x="376" y="425" width="3" height="28" fill="#c0c0c0" />
<rect x="380" y="423" width="3" height="30" fill="#c0c0c0" />
<rect x="384" y="422" width="3" height="31" fill="#c0c0c0" />
<rect x="388" y="421" width="3" height="32" fill="#c0c0c0" />
<rect x="392" y="421" width="3" height="32" fill="#c0c0c0" />
<rect x="396" y="423" width="3" height="30" fill="#c0c0c0" />
<rect x="400" y="428" width="3" height="25" fill="#c0c0c0" />
<rect x="404" y="433" width="3" height="20" fill="#c0c0c0" />
<rect x="408" y="435" width="3" height="18" fill="#c0c0c0" />
<rect x="412" y="436" width="3" height="17" fill="#c0c0c0" />
<rect x="416" y="437" width="3" height="16" fill="#c0c0c0" />
<rect x="420" y="436" width="3" height="17" fill="#c0c0c0" />
<rect x="424" y="433" width="3" height="20" fill="#c0c0c0" />
<rect x="428" y="432" width="3" height="21" fill="#c0c0c0" />
<rect x="432" y="433" width="3" height="20" fill="#c0c0c0" />
<rect x="436" y="432" width="3" height="21" fill="#c0c0c0" />
<rect x="440" y="430" width="3" height="23" fill="#c0c0c0" />
<rect x="444" y="427" width="3" height="26" fill="#c0c0c0" />
<rect x="448" y="426" width="3" height="27" fill="#c0c0c0" />
<rect x="452" y="428" width="3" height="25" fill="#c0c0c0" />
<rect x="456" y="430" width="3" height="23" fill="#c0c0c0" />
<rect x="460" y="433" width="3" height="20" fill="#c0c0c0" />
<rect x="464" y="435" width="3" height="18" fill="#c0c0c0" />
<rect x="468" y="438" width="3" height="15" fill="#c0c0c0" />
<rect x="472" y="439" width="3" height="14" fill="#c0c0c0" />
<rect x="476" y="441" width="3" height="12" fill="#c0c0c0" />
<rect x="480" y="444" width="3" height="9" fill="#c0c0c0" />
<rect x="484" y="450" width="3" height="3" fill="#c0c0c0" />
<rect x="488" y="453" width="3" height="1" fill="#c0c0c0" />
<rect x="492" y="453" width="3" height="1" fill="#c0c0c0" />
<rect x="496" y="453" width="3" height="3" fill="#c0c0c0" />
<rect x="500" y="453" width="3" height="2" fill="#c0c0c0" />
<rect x="504" y="453" width="3" height="3" fill="#c0c0c0" />
<rect x="508" y="453" width="3" height="7" fill="#c0c0c0" />
<rect x="512" y="453" width="3" height="9" fill="#c0c0c0" />
<rect x="516" y="453" width="3" height="10" fill="#c0c0c0" />
<rect x="520" y="453" width="3" height="13" fill="#c0c0c0" />
<rect x="524" y="453" width="3" height="19" fill="#c0c0c0" />
<rect x="528" y="453" width="3" height="22" fill="#c0c0c0" />
<rect x="532" y="453" width="3" height="23" fill="#c0c0c0" />
<rect x="536" y="453" width="3" height="24" fill="#c0c0c0" />
<rect x="540" y="453" width="3" height="25" fill="#c0c0c0" />
<rect x="544" y="453" width="3" height="27" fill="#c0c0c0" />
<rect x="548" y="453" width="3" height="27" fill="#c0c0c0" />
<rect x="552" y="453" width="3" height="27" fill="#c0c0c0" />
<rect x="556" y="453" width="3" height="25" fill="#c0c0c0" />
<rect x="560" y="453" width="3" height="23" fill="#c0c0c0" />
<rect x="564" y="453" width="3" height="19" fill="#c0c0c0" />
<rect x="568" y="453" width="3" height="17" fill="#c0c0c0" />
<rect x="572" y="453" width="3" height="13" fill="#c0c0c0" />
<rect x="576" y="453" width="3" height="7" fill="#c0c0c0" />
<rect x="580" y="453" width="3" height="1" fill="#c0c0c0" />
<rect x="584" y="450" width="3" height="3" fill="#c0c0c0" />
<rect x="588" y="449" width="3" height="4" fill="#c0c0c0" />
<rect x="592" y="448" width="3" height="5" fill="#c0c0c0" />
<rect x="596" y="448" width="3" height="5" fill="#c0c0c0" />
<rect x="600" y="448" width="3" height="5" fill="#c0c0c0" />
<rect x="604" y="446" width="3" height="7" fill="#c0c0c0" />
<rect x="608" y="445" width="3" height="8" fill="#c0c0c0" />
<rect x="612" y="447" width="3" height="6" fill="#c0c0c0" />
<rect x="616" y="447" width="3" height="6" fill="#c0c0c0" />
<rect x="620" y="448" width="3" height="5" fill="#c0c0c0" />
<rect x="624" y="447" width="3" height="6" fill="#c0c0c0" />
<rect x="628" y="446" width="3" height="7" fill="#c0c0c0" />
<rect x="632" y="446" width="3" height="7" fill="#c0c0c0" />
<rect x="636" y="446" width="3" height="7" fill="#c0c0c0" />
<rect x="640" y="446" width="3" height="7" fill="#c0c0c0" />
<rect x="644" y="447" width="3" height="6" fill="#c0c0c0" />
<rect x="648" y="447" width="3" height="6" fill="#c0c0c0" />
<rect x="652" y="447" width="3" height="6" fill="#c0c0c0" />
<rect x="656" y="446" width="3" height="7" fill="#c0c0c0" />
<rect x="660" y="445" width="3" height="8" fill="#c0c0c0" />
<rect x="664" y="445" width="3" height="8" fill="#c0c0c0" />
<rect x="668" y="445" width="3" height="8" fill="#c0c0c0" />
<rect x="672" y="444" width="3" height="9" fill="#c0c0c0" />
<rect x="676" y="445" width="3" height="8" fill="#c0c0c0" />
<rect x="680" y="445" width="3" height="8" fill="#c0c0c0" />
<rect x="684" y="448" width="3" height="5" fill="#c0c0c0" />
<rect x="688" y="449" width="3" height="4" fill="#c0c0c0" />
<rect x="692" y="452" width="3" height="1" fill="#c0c0c0" />
<rect x="696" y="452" width="3" height="1" fill="#c0c0c0" />
<rect x="700" y="452" width="3" height="1" fill="#c0c0c0" />
<rect x="704" y="452" width="3" height="1" fill="#c0c0c0" />
<rect x="708" y="450" width="3" height="3" fill="#c0c0c0" />
<rect x="712" y="445" width="3" height="8" fill="#c0c0c0" />
<rect x="716" y="444" width="3" height="9" fill="#c0c0c0" />
<rect x="720" y="445" width="3" height="8" fill="#c0c0c0" />
<rect x="724" y="447" width="3" height="6" fill="#c0c0c0" />
<rect x="728" y="448" width="3" height="5" fill="#c0c0c0" />
<rect x="732" y="446" width="3" height="7" fill="#c0c0c0" />
<rect x="736" y="446" width="3" height="7" fill="#c0c0c0" />
<rect x="740" y="449" width="3" height="4" fill="#c0c0c0" />
<rect x="744" y="452" width="3" height="1" fill="#c0c0c0" />
<rect x="748" y="453" width="3" height="4" fill="#c0c0c0" />
<rect x="752" y="453" width="3" height="7" fill="#c0c0c0" />
<rect x="756" y="453" width="3" height="10" fill="#c0c0c0" />
<rect x="760" y="453" width="3" height="13" fill="#c0c0c0" />
<rect x="764" y="453" width="3" height="15" fill="#c0c0c0" />
<rect x="768" y="453" width="3" height="18" fill="#c0c0c0" />
<rect x="772" y="453" width="3" height="22" fill="#c0c0c0" />
<rect x="776" y="453" width="3" height="24" fill="#c0c0c0" />
<rect x="780" y="453" width="3" height="24" fill="#c0c0c0" />
<rect x="784" y="453" width="3" height="25" fill="#c0c0c0" />
<rect x="788" y="453" width="3" height="26" fill="#c0c0c0" />
<rect x="792" y="453" width="3" height="26" fill="#c0c0c0" />
<rect x="796" y="453" width="3" height="25" fill="#c0c0c0" />
<rect x="800" y="453" width="3" height="23" fill="#c0c0c0" />
<rect x="804" y="453" width="3" height="23" fill="#c0c0c0" />
<rect x="808" y="453" width="3" height="23" fill="#c0c0c0" />
<rect x="812" y="453" width="3" height="20" fill="#c0c0c0" />
<rect x="816" y="453" width="3" height="17" fill="#c0c0c0" />
<rect x="820" y="453" width="3" height="14" fill="#c0c0c0" />
<rect x="824" y="453" width="3" height="12" fill="#c0c0c0" />
<rect x="828" y="453" width="3" height="8" fill="#c0c0c0" />
<rect x="832" y="453" width="3" height="5" fill="#c0c0c0" />
<rect x="836" y="453" width="3" height="5" fill="#c0c0c0" />
<rect x="840" y="453" width="3" height="3" fill="#c0c0c0" />
<rect x="844" y="453" width="3" height="2" fill="#c0c0c0" />
<rect x="848" y="453" width="3" height="1" fill="#c0c0c0" />
<rect x="852" y="453" width="3" height="1" fill="#c0c0c0" />
<rect x="856" y="452" width="3" height="1" fill="#c0c0c0" />
<rect x="860" y="453" width="3" height="3" fill="#c0c0c0" />
<rect x="864" y="453" width="3" height="3" fill="#c0c0c0" />
<rect x="868" y="451" width="3" height="2" fill="#c0c0c0" />
<rect x="872" y="447" width="3" height="6" fill="#c0c0c0" />
<rect x="876" y="444" width="3" height="9" fill="#c0c0c0" />
<rect x="880" y="440" width="3" height="13" fill="#c0c0c0" />
<rect x="884" y="436" width="3" height="17" fill="#c0c0c0" />
<rect x="888" y="434" width="3" height="19" fill="#c0c0c0" />
<rect x="892" y="431" width="3" height="22" fill="#c0c0c0" />
<rect x="896" y="429" width="3" height="24" fill="#c0c0c0" />
<rect x="900" y="427" width="3" height="26" fill="#c0c0c0" />
<rect x="904" y="427" width="3" height="26" fill="#c0c0c0" />
<rect x="908" y="430" width="3" height="23" fill="#c0c0c0" />
<rect x="912" y="430" width="3" height="23" fill="#c0c0c0" />
<rect x="916" y="428" width="3" height="25" fill="#c0c0c0" />
<rect x="920" y="426" width="3" height="27" fill="#c0c0c0" />
<rect x="924" y="422" width="3" height="31" fill="#c0c0c0" />
</g>
<path d="M395 423h8v1h-8zM391 424h4v1h-4zM403 424h4v1h-4zM387 425h4v1h-4zM407 425h4v1h-4zM383 426h4v1h-4zM411 426h3v1h-3zM380 427h3v1h-3zM414 427h2v1h-2zM924 427h2v1h-2zM378 428h2v1h-2zM416 428h3v1h-3zM922 428h2v1h-2zM375 429h3v1h-3zM419 429h3v1h-3zM919 429h3v1h-3zM372 430h3v1h-3zM422 430h2v1h-2zM451 430h20v1h-20zM915 430h4v1h-4zM370 431h2v1h-2zM424 431h3v1h-3zM447 431h4v1h-4zM471 431h3v1h-3zM912 431h3v1h-3zM367 432h3v1h-3zM427 432h4v1h-4zM443 432h4v1h-4zM474 432h2v1h-2zM910 432h2v1h-2zM364 433h3v1h-3zM431 433h4v1h-4zM439 433h4v1h-4zM476 433h3v1h-3zM908 433h2v1h-2zM48 434h14v1h-14zM362 434h2v1h-2zM435 434h4v1h-4zM479 434h3v1h-3zM906 434h2v1h-2zM46 435h2v1h-2zM62 435h2v1h-2zM360 435h2v1h-2zM482 435h1v1h-1zM904 435h2v1h-2zM43 436h3v1h-3zM64 436h2v1h-2zM358 436h2v1h-2zM483 436h2v1h-2zM902 436h2v1h-2zM40 437h3v1h-3zM66 437h2v1h-2zM355 437h3v1h-3zM485 437h1v1h-1zM901 437h1v1h-1zM38 438h2v1h-2zM68 438h2v1h-2zM352 438h3v1h-3zM486 438h1v1h-1zM899 438h2v1h-2zM36 439h2v1h-2zM70 439h2v1h-2zM350 439h2v1h-2zM487 439h2v1h-2zM898 439h1v1h-1zM34 440h2v1h-2zM72 440h2v1h-2zM144 440h19v1h-19zM348 440h2v1h-2zM489 440h1v1h-1zM897 440h1v1h-1zM33 441h1v1h-1zM74 441h2v1h-2zM142 441h2v1h-2zM163 441h4v1h-4zM346 441h2v1h-2zM490 441h1v1h-1zM896 441h1v1h-1zM31 442h2v1h-2zM76 442h2v1h-2zM139 442h3v1h-3zM167 442h4v1h-4zM345 442h1v1h-1zM491 442h2v1h-2zM895 442h1v1h-1zM30 443h1v1h-1zM78 443h2v1h-2zM135 443h4v1h-4zM171 443h3v1h-3zM343 443h2v1h-2zM493 443h1v1h-1zM894 443h1v1h-1zM28 444h2v1h-2zM80 444h2v1h-2zM132 444h3v1h-3zM174 444h2v1h-2zM342 444h1v1h-1zM494 444h2v1h-2zM892 444h2v1h-2zM26 445h2v1h-2zM82 445h2v1h-2zM130 445h2v1h-2zM176 445h2v1h-2zM340 445h2v1h-2zM496 445h2v1h-2zM667 445h24v1h-24zM890 445h2v1h-2zM5 446h2v1h-2zM23 446h3v1h-3zM84 446h2v1h-2zM124 446h6v1h-6zM178 446h2v1h-2zM338 446h2v1h-2zM498 446h1v1h-1zM627 446h40v1h-40zM691 446h4v1h-4zM735 446h11v1h-11zM888 446h2v1h-2zM7 447h16v1h-16zM86 447h2v1h-2zM122 447h2v1h-2zM180 447h3v1h-3zM337 447h1v1h-1zM499 447h2v1h-2zM615 447h12v1h-12zM695 447h4v1h-4zM731 447h4v1h-4zM746 447h2v1h-2zM886 447h2v1h-2zM88 448h3v1h-3zM119 448h3v1h-3zM183 448h3v1h-3zM335 448h2v1h-2zM501 448h1v1h-1zM611 448h4v1h-4zM699 448h8v1h-8zM723 448h8v1h-8zM748 448h2v1h-2zM884 448h2v1h-2zM91 449h4v1h-4zM115 449h4v1h-4zM186 449h2v1h-2zM334 449h1v1h-1zM502 449h2v1h-2zM609 449h2v1h-2zM707 449h16v1h-16zM750 449h2v1h-2zM882 449h2v1h-2zM95 450h20v1h-20zM188 450h2v1h-2zM332 450h2v1h-2zM504 450h2v1h-2zM607 450h2v1h-2zM752 450h2v1h-2zM880 450h2v1h-2zM190 451h2v1h-2zM330 451h2v1h-2zM506 451h2v1h-2zM606 451h1v1h-1zM754 451h2v1h-2zM878 451h2v1h-2zM192 452h2v1h-2zM328 452h2v1h-2zM508 452h2v1h-2zM604 452h2v1h-2zM756 452h2v1h-2zM875 452h3v1h-3zM194 453h2v1h-2zM326 453h2v1h-2zM510 453h2v1h-2zM602 453h2v1h-2zM758 453h2v1h-2zM871 453h4v1h-4zM196 454h2v1h-2zM324 454h2v1h-2zM512 454h2v1h-2zM601 454h1v1h-1zM760 454h2v1h-2zM867 454h4v1h-4zM198 455h2v1h-2zM322 455h2v1h-2zM514 455h2v1h-2zM599 455h2v1h-2zM762 455h2v1h-2zM863 455h4v1h-4zM200 456h2v1h-2zM321 456h1v1h-1zM516 456h2v1h-2zM598 456h1v1h-1zM764 456h2v1h-2zM859 456h4v1h-4zM202 457h1v1h-1zM319 457h2v1h-2zM518 457h2v1h-2zM597 457h1v1h-1zM766 457h1v1h-1zM855 457h4v1h-4zM203 458h2v1h-2zM318 458h1v1h-1zM520 458h2v1h-2zM595 458h2v1h-2zM767 458h2v1h-2zM852 458h3v1h-3zM205 459h1v1h-1zM317 459h1v1h-1zM522 459h2v1h-2zM594 459h1v1h-1zM769 459h1v1h-1zM850 459h2v1h-2zM206 460h2v1h-2zM315 460h2v1h-2zM524 460h2v1h-2zM593 460h1v1h-1zM770 460h1v1h-1zM848 460h2v1h-2zM208 461h2v1h-2zM314 461h1v1h-1zM526 461h2v1h-2zM591 461h2v1h-2zM771 461h2v1h-2zM846 461h2v1h-2zM210 462h1v1h-1zM312 462h2v1h-2zM528 462h2v1h-2zM590 462h1v1h-1zM773 462h1v1h-1zM844 462h2v1h-2zM211 463h2v1h-2zM310 463h2v1h-2zM530 463h2v1h-2zM589 463h1v1h-1zM774 463h1v1h-1zM842 463h2v1h-2zM213 464h1v1h-1zM308 464h2v1h-2zM532 464h2v1h-2zM588 464h1v1h-1zM775 464h2v1h-2zM841 464h1v1h-1zM214 465h1v1h-1zM306 465h2v1h-2zM534 465h1v1h-1zM587 465h1v1h-1zM777 465h1v1h-1zM839 465h2v1h-2zM215 466h2v1h-2zM304 466h2v1h-2zM535 466h2v1h-2zM586 466h1v1h-1zM778 466h1v1h-1zM838 466h1v1h-1zM217 467h1v1h-1zM302 467h2v1h-2zM537 467h1v1h-1zM585 467h1v1h-1zM779 467h2v1h-2zM836 467h2v1h-2zM218 468h2v1h-2zM300 468h2v1h-2zM538 468h2v1h-2zM583 468h2v1h-2zM781 468h1v1h-1zM834 468h2v1h-2zM220 469h2v1h-2zM298 469h2v1h-2zM540 469h2v1h-2zM582 469h1v1h-1zM782 469h2v1h-2zM832 469h2v1h-2zM222 470h1v1h-1zM296 470h2v1h-2zM542 470h1v1h-1zM581 470h1v1h-1zM784 470h2v1h-2zM830 470h2v1h-2zM223 471h2v1h-2zM294 471h2v1h-2zM543 471h2v1h-2zM579 471h2v1h-2zM786 471h2v1h-2zM828 471h2v1h-2zM225 472h1v1h-1zM292 472h2v1h-2zM545 472h1v1h-1zM578 472h1v1h-1zM788 472h2v1h-2zM826 472h2v1h-2zM226 473h1v1h-1zM290 473h2v1h-2zM546 473h2v1h-2zM576 473h2v1h-2zM790 473h2v1h-2zM823 473h3v1h-3zM227 474h2v1h-2zM288 474h2v1h-2zM548 474h2v1h-2zM574 474h2v1h-2zM792 474h3v1h-3zM820 474h3v1h-3zM229 475h1v1h-1zM286 475h2v1h-2zM550 475h2v1h-2zM571 475h3v1h-3zM795 475h4v1h-4zM818 475h2v1h-2zM230 476h2v1h-2zM283 476h3v1h-3zM552 476h3v1h-3zM567 476h4v1h-4zM799 476h4v1h-4zM811 476h7v1h-7zM232 477h2v1h-2zM280 477h3v1h-3zM555 477h12v1h-12zM803 477h8v1h-8zM234 478h2v1h-2zM278 478h2v1h-2zM236 479h3v1h-3zM275 479h3v1h-3zM239 480h3v1h-3zM271 480h4v1h-4zM242 481h2v1h-2zM267 481h4v1h-4zM244 482h3v1h-3zM263 482h4v1h-4zM247 483h16v1h-16z" fill="#ff0000" shape-rendering="crispEdges" />
<rect x="4" y="416" width="1164" height="1" fill="#000" />
<rect x="4" y="488" width="1164" height="1" fill="#000" />
<rect x="4" y="416" width="1" height="73" fill="#000" />
<rect x="1167" y="416" width="1" height="73" fill="#000" />
<text x="9" y="429" font-size="9.4" fill="#000" text-anchor="start" font-weight="normal" textLength="148" lengthAdjust="spacingAndGlyphs"  stroke="#000" stroke-width="0.15">MACD(12,26,9) 0.008153 0.006652</text>
<text x="1171.5" y="427.1" font-size="9.4" fill="#000" text-anchor="start" font-weight="normal" textLength="36.5" lengthAdjust="spacingAndGlyphs"  stroke="#000" stroke-width="0.15">0.009345</text>
<text x="1171.5" y="456.6" font-size="9.4" fill="#000" text-anchor="start" font-weight="normal" textLength="18" lengthAdjust="spacingAndGlyphs"  stroke="#000" stroke-width="0.15">0.00</text>
<text x="1171.5" y="485.1" font-size="9.4" fill="#000" text-anchor="start" font-weight="normal" textLength="40" lengthAdjust="spacingAndGlyphs"  stroke="#000" stroke-width="0.15">-0.008902</text>
<rect x="1168" y="418" width="2" height="1" fill="#000" />
<rect x="1168" y="453" width="2" height="1" fill="#000" />
<rect x="1168" y="487" width="2" height="1" fill="#000" />
<line x1="6" y1="513.5" x2="1167" y2="513.5" stroke="#c0c0c0" stroke-width="1" stroke-dasharray="3,3" shape-rendering="crispEdges"/>
<line x1="6" y1="542.5" x2="1167" y2="542.5" stroke="#c0c0c0" stroke-width="1" stroke-dasharray="3,3" shape-rendering="crispEdges"/>
<path d="M25 509h5v1h-5zM30 510h2v1h-2zM365 510h1v1h-1zM24 510h1v2h-1zM32 511h1v1h-1zM387 511h3v1h-3zM33 511h1v2h-1zM364 511h1v2h-1zM366 511h1v2h-1zM349 512h1v1h-1zM380 512h7v1h-7zM390 512h1v1h-1zM23 512h1v2h-1zM347 513h2v1h-2zM350 513h1v1h-1zM378 513h2v1h-2zM391 513h2v1h-2zM899 513h3v1h-3zM925 513h1v1h-1zM363 513h1v2h-1zM367 513h1v2h-1zM34 513h1v4h-1zM341 514h2v1h-2zM346 514h1v1h-1zM351 514h1v1h-1zM376 514h2v1h-2zM393 514h1v1h-1zM895 514h4v1h-4zM902 514h1v1h-1zM923 514h2v1h-2zM22 514h1v2h-1zM313 515h1v1h-1zM339 515h2v1h-2zM343 515h3v1h-3zM352 515h1v1h-1zM374 515h2v1h-2zM891 515h4v1h-4zM903 515h1v1h-1zM922 515h1v1h-1zM362 515h1v2h-1zM368 515h1v2h-1zM394 515h1v2h-1zM21 516h1v1h-1zM314 516h1v1h-1zM333 516h2v1h-2zM338 516h1v1h-1zM353 516h2v1h-2zM371 516h3v1h-3zM425 516h1v1h-1zM443 516h4v1h-4zM881 516h10v1h-10zM904 516h1v1h-1zM919 516h3v1h-3zM312 516h1v2h-1zM19 517h2v1h-2zM135 517h3v1h-3zM315 517h1v1h-1zM331 517h2v1h-2zM335 517h3v1h-3zM355 517h7v1h-7zM369 517h2v1h-2zM395 517h1v1h-1zM423 517h2v1h-2zM426 517h2v1h-2zM439 517h4v1h-4zM447 517h3v1h-3zM879 517h2v1h-2zM905 517h1v1h-1zM917 517h2v1h-2zM35 517h1v3h-1zM18 518h1v1h-1zM131 518h4v1h-4zM138 518h1v1h-1zM316 518h1v1h-1zM330 518h1v1h-1zM422 518h1v1h-1zM428 518h2v1h-2zM437 518h2v1h-2zM450 518h1v1h-1zM580 518h2v1h-2zM713 518h1v1h-1zM878 518h1v1h-1zM915 518h2v1h-2zM311 518h1v2h-1zM396 518h1v2h-1zM906 518h1v2h-1zM17 519h1v1h-1zM127 519h4v1h-4zM139 519h2v1h-2zM317 519h2v1h-2zM329 519h1v1h-1zM421 519h1v1h-1zM430 519h1v1h-1zM436 519h1v1h-1zM578 519h2v1h-2zM582 519h2v1h-2zM712 519h1v1h-1zM875 519h3v1h-3zM914 519h1v1h-1zM451 519h1v2h-1zM673 519h1v2h-1zM714 519h1v2h-1zM16 520h1v1h-1zM125 520h2v1h-2zM141 520h1v1h-1zM319 520h3v1h-3zM328 520h1v1h-1zM420 520h1v1h-1zM577 520h1v1h-1zM584 520h2v1h-2zM869 520h6v1h-6zM913 520h1v1h-1zM310 520h1v2h-1zM397 520h1v2h-1zM431 520h1v2h-1zM435 520h1v2h-1zM672 520h1v2h-1zM711 520h1v2h-1zM907 520h1v2h-1zM36 520h1v4h-1zM15 521h1v1h-1zM124 521h1v1h-1zM322 521h1v1h-1zM327 521h1v1h-1zM452 521h1v1h-1zM576 521h1v1h-1zM586 521h1v1h-1zM605 521h2v1h-2zM715 521h1v1h-1zM912 521h1v1h-1zM142 521h1v2h-1zM419 521h1v2h-1zM674 521h1v2h-1zM868 521h1v2h-1zM14 522h1v1h-1zM92 522h2v1h-2zM113 522h1v1h-1zM123 522h1v1h-1zM165 522h1v1h-1zM309 522h1v1h-1zM323 522h2v1h-2zM326 522h1v1h-1zM432 522h1v1h-1zM434 522h1v1h-1zM453 522h1v1h-1zM587 522h2v1h-2zM604 522h1v1h-1zM607 522h3v1h-3zM655 522h11v1h-11zM671 522h1v1h-1zM710 522h1v1h-1zM398 522h1v2h-1zM575 522h1v2h-1zM716 522h1v2h-1zM908 522h1v2h-1zM911 522h1v2h-1zM13 523h1v1h-1zM49 523h1v1h-1zM90 523h2v1h-2zM94 523h2v1h-2zM103 523h3v1h-3zM111 523h2v1h-2zM122 523h1v1h-1zM164 523h1v1h-1zM166 523h1v1h-1zM325 523h1v1h-1zM412 523h3v1h-3zM418 523h1v1h-1zM433 523h1v1h-1zM454 523h2v1h-2zM589 523h1v1h-1zM627 523h3v1h-3zM653 523h2v1h-2zM666 523h1v1h-1zM709 523h1v1h-1zM733 523h1v1h-1zM829 523h2v1h-2zM114 523h1v2h-1zM143 523h1v2h-1zM308 523h1v2h-1zM603 523h1v2h-1zM610 523h1v2h-1zM670 523h1v2h-1zM675 523h1v2h-1zM867 523h1v2h-1zM12 524h1v1h-1zM48 524h1v1h-1zM50 524h1v1h-1zM96 524h7v1h-7zM106 524h2v1h-2zM110 524h1v1h-1zM121 524h1v1h-1zM410 524h2v1h-2zM415 524h3v1h-3zM456 524h3v1h-3zM574 524h1v1h-1zM590 524h1v1h-1zM625 524h2v1h-2zM630 524h2v1h-2zM635 524h4v1h-4zM651 524h2v1h-2zM667 524h2v1h-2zM708 524h1v1h-1zM717 524h1v1h-1zM732 524h1v1h-1zM734 524h1v1h-1zM828 524h1v1h-1zM831 524h3v1h-3zM910 524h1v1h-1zM37 524h1v2h-1zM89 524h1v2h-1zM163 524h1v2h-1zM167 524h1v2h-1zM399 524h1v2h-1zM909 524h1v2h-1zM11 525h1v1h-1zM51 525h1v1h-1zM108 525h2v1h-2zM115 525h1v1h-1zM120 525h1v1h-1zM291 525h4v1h-4zM307 525h1v1h-1zM409 525h1v1h-1zM459 525h7v1h-7zM472 525h2v1h-2zM573 525h1v1h-1zM591 525h2v1h-2zM602 525h1v1h-1zM611 525h1v1h-1zM617 525h1v1h-1zM624 525h1v1h-1zM632 525h3v1h-3zM639 525h3v1h-3zM650 525h1v1h-1zM669 525h1v1h-1zM681 525h1v1h-1zM707 525h1v1h-1zM718 525h1v1h-1zM735 525h2v1h-2zM827 525h1v1h-1zM834 525h1v1h-1zM847 525h3v1h-3zM47 525h1v2h-1zM144 525h1v2h-1zM676 525h1v2h-1zM731 525h1v2h-1zM866 525h1v2h-1zM5 526h2v1h-2zM10 526h1v1h-1zM38 526h1v1h-1zM52 526h1v1h-1zM67 526h3v1h-3zM119 526h1v1h-1zM162 526h1v1h-1zM168 526h1v1h-1zM290 526h1v1h-1zM295 526h4v1h-4zM407 526h2v1h-2zM466 526h2v1h-2zM470 526h2v1h-2zM474 526h1v1h-1zM571 526h2v1h-2zM593 526h9v1h-9zM615 526h2v1h-2zM618 526h1v1h-1zM623 526h1v1h-1zM642 526h2v1h-2zM647 526h3v1h-3zM679 526h2v1h-2zM701 526h2v1h-2zM706 526h1v1h-1zM719 526h2v1h-2zM737 526h1v1h-1zM826 526h1v1h-1zM841 526h6v1h-6zM850 526h2v1h-2zM855 526h2v1h-2zM88 526h1v2h-1zM116 526h1v2h-1zM289 526h1v2h-1zM306 526h1v2h-1zM400 526h1v2h-1zM612 526h1v2h-1zM682 526h1v2h-1zM835 526h1v2h-1zM857 526h1v2h-1zM7 527h3v1h-3zM39 527h2v1h-2zM46 527h1v1h-1zM53 527h6v1h-6zM63 527h4v1h-4zM70 527h1v1h-1zM118 527h1v1h-1zM161 527h1v1h-1zM169 527h1v1h-1zM299 527h4v1h-4zM406 527h1v1h-1zM468 527h2v1h-2zM475 527h2v1h-2zM501 527h1v1h-1zM565 527h2v1h-2zM570 527h1v1h-1zM614 527h1v1h-1zM619 527h2v1h-2zM622 527h1v1h-1zM644 527h3v1h-3zM678 527h1v1h-1zM689 527h1v1h-1zM700 527h1v1h-1zM703 527h3v1h-3zM721 527h2v1h-2zM730 527h1v1h-1zM738 527h1v1h-1zM816 527h2v1h-2zM824 527h2v1h-2zM839 527h2v1h-2zM852 527h3v1h-3zM145 527h1v2h-1zM677 527h1v2h-1zM865 527h1v2h-1zM41 528h5v1h-5zM59 528h4v1h-4zM117 528h1v1h-1zM146 528h5v1h-5zM160 528h1v1h-1zM170 528h1v1h-1zM303 528h3v1h-3zM403 528h3v1h-3zM477 528h1v1h-1zM493 528h1v1h-1zM500 528h1v1h-1zM502 528h2v1h-2zM564 528h1v1h-1zM567 528h3v1h-3zM613 528h1v1h-1zM621 528h1v1h-1zM683 528h1v1h-1zM688 528h1v1h-1zM690 528h1v1h-1zM699 528h1v1h-1zM723 528h7v1h-7zM739 528h1v1h-1zM814 528h2v1h-2zM818 528h2v1h-2zM822 528h2v1h-2zM836 528h1v1h-1zM838 528h1v1h-1zM71 528h1v2h-1zM87 528h1v2h-1zM288 528h1v2h-1zM401 528h1v2h-1zM858 528h1v2h-1zM151 529h3v1h-3zM159 529h1v1h-1zM171 529h2v1h-2zM402 529h1v1h-1zM478 529h2v1h-2zM494 529h1v1h-1zM499 529h1v1h-1zM504 529h2v1h-2zM687 529h1v1h-1zM698 529h1v1h-1zM740 529h1v1h-1zM813 529h1v1h-1zM820 529h2v1h-2zM837 529h1v1h-1zM492 529h1v2h-1zM563 529h1v2h-1zM684 529h1v2h-1zM691 529h1v2h-1zM864 529h1v2h-1zM72 530h1v1h-1zM154 530h2v1h-2zM158 530h1v1h-1zM173 530h5v1h-5zM480 530h2v1h-2zM495 530h2v1h-2zM498 530h1v1h-1zM506 530h1v1h-1zM686 530h1v1h-1zM696 530h2v1h-2zM741 530h1v1h-1zM86 530h1v2h-1zM287 530h1v2h-1zM812 530h1v2h-1zM859 530h1v3h-1zM73 531h1v1h-1zM156 531h2v1h-2zM178 531h2v1h-2zM281 531h1v1h-1zM497 531h1v1h-1zM557 531h2v1h-2zM562 531h1v1h-1zM685 531h1v1h-1zM692 531h1v1h-1zM694 531h2v1h-2zM742 531h1v1h-1zM482 531h1v2h-1zM491 531h1v2h-1zM507 531h1v2h-1zM863 531h1v2h-1zM74 532h2v1h-2zM79 532h7v1h-7zM180 532h3v1h-3zM280 532h1v1h-1zM282 532h1v1h-1zM515 532h3v1h-3zM559 532h3v1h-3zM693 532h1v1h-1zM743 532h2v1h-2zM286 532h1v2h-1zM556 532h1v2h-1zM811 532h1v2h-1zM76 533h3v1h-3zM183 533h7v1h-7zM279 533h1v1h-1zM283 533h2v1h-2zM483 533h1v1h-1zM508 533h1v1h-1zM511 533h4v1h-4zM518 533h1v1h-1zM745 533h2v1h-2zM800 533h2v1h-2zM490 533h1v2h-1zM860 533h1v2h-1zM862 533h1v2h-1zM190 534h2v1h-2zM272 534h3v1h-3zM278 534h1v1h-1zM285 534h1v1h-1zM509 534h2v1h-2zM519 534h1v1h-1zM747 534h8v1h-8zM798 534h2v1h-2zM802 534h1v1h-1zM484 534h1v2h-1zM555 534h1v2h-1zM810 534h1v2h-1zM192 535h2v1h-2zM270 535h2v1h-2zM275 535h3v1h-3zM487 535h3v1h-3zM520 535h1v1h-1zM533 535h2v1h-2zM755 535h8v1h-8zM795 535h3v1h-3zM803 535h2v1h-2zM861 535h1v2h-1zM194 536h1v1h-1zM255 536h3v1h-3zM269 536h1v1h-1zM485 536h2v1h-2zM521 536h1v1h-1zM532 536h1v1h-1zM535 536h4v1h-4zM763 536h3v1h-3zM780 536h3v1h-3zM792 536h3v1h-3zM805 536h5v1h-5zM554 536h1v2h-1zM201 537h6v1h-6zM251 537h4v1h-4zM258 537h2v1h-2zM267 537h2v1h-2zM522 537h1v1h-1zM531 537h1v1h-1zM539 537h4v1h-4zM547 537h4v1h-4zM766 537h2v1h-2zM778 537h2v1h-2zM783 537h4v1h-4zM790 537h2v1h-2zM195 537h1v2h-1zM199 538h2v1h-2zM207 538h3v1h-3zM247 538h4v1h-4zM260 538h3v1h-3zM266 538h1v1h-1zM523 538h2v1h-2zM530 538h1v1h-1zM543 538h4v1h-4zM551 538h3v1h-3zM768 538h2v1h-2zM776 538h2v1h-2zM787 538h3v1h-3zM196 539h1v1h-1zM198 539h1v1h-1zM210 539h2v1h-2zM241 539h6v1h-6zM263 539h3v1h-3zM525 539h5v1h-5zM770 539h2v1h-2zM774 539h2v1h-2zM197 540h1v1h-1zM212 540h2v1h-2zM772 540h2v1h-2zM240 540h1v2h-1zM214 541h2v1h-2zM216 542h15v1h-15zM239 542h1v1h-1zM231 543h3v1h-3zM238 543h1v2h-1zM234 544h2v1h-2zM236 545h2v1h-2z" fill="#1e90ff" shape-rendering="crispEdges" />
<rect x="4" y="490" width="1164" height="1" fill="#000" />
<rect x="4" y="564" width="1164" height="1" fill="#000" />
<rect x="4" y="490" width="1" height="75" fill="#000" />
<rect x="1167" y="490" width="1" height="75" fill="#000" />
<text x="9" y="503" font-size="9.4" fill="#000" text-anchor="start" font-weight="normal" textLength="68" lengthAdjust="spacingAndGlyphs"  stroke="#000" stroke-width="0.15">RSI(14) 70.6896</text>
<text x="1171.5" y="500.6" font-size="9.4" fill="#000" text-anchor="start" font-weight="normal" textLength="14.5" lengthAdjust="spacingAndGlyphs"  stroke="#000" stroke-width="0.15">100</text>
<text x="1171.5" y="516.6" font-size="9.4" fill="#000" text-anchor="start" font-weight="normal" textLength="9.5" lengthAdjust="spacingAndGlyphs"  stroke="#000" stroke-width="0.15">70</text>
<text x="1171.5" y="545.6" font-size="9.4" fill="#000" text-anchor="start" font-weight="normal" textLength="9.5" lengthAdjust="spacingAndGlyphs"  stroke="#000" stroke-width="0.15">30</text>
<text x="1171.5" y="560.6" font-size="9.4" fill="#000" text-anchor="start" font-weight="normal" textLength="4.6" lengthAdjust="spacingAndGlyphs"  stroke="#000" stroke-width="0.15">0</text>
<rect x="1168" y="491" width="1" height="1" fill="#000" />
<rect x="1168" y="563" width="1" height="1" fill="#000" />
<rect x="5" y="565" width="1" height="3" fill="#000" />
<text x="4.5" y="577" font-size="9.4" fill="#000" text-anchor="start" font-weight="normal" textLength="52.1" lengthAdjust="spacingAndGlyphs"  stroke="#000" stroke-width="0.15">13 Aug 2021</text>
<rect x="69" y="565" width="1" height="3" fill="#000" />
<text x="68.5" y="577" font-size="9.4" fill="#000" text-anchor="start" font-weight="normal" textLength="45.9" lengthAdjust="spacingAndGlyphs"  stroke="#000" stroke-width="0.15">1 Sep 2021</text>
<rect x="133" y="565" width="1" height="3" fill="#000" />
<text x="132.5" y="577" font-size="9.4" fill="#000" text-anchor="start" font-weight="normal" textLength="50.8" lengthAdjust="spacingAndGlyphs"  stroke="#000" stroke-width="0.15">20 Sep 2021</text>
<rect x="197" y="565" width="1" height="3" fill="#000" />
<text x="196.5" y="577" font-size="9.4" fill="#000" text-anchor="start" font-weight="normal" textLength="44.6" lengthAdjust="spacingAndGlyphs"  stroke="#000" stroke-width="0.15">8 Oct 2021</text>
<rect x="261" y="565" width="1" height="3" fill="#000" />
<text x="260.5" y="577" font-size="9.4" fill="#000" text-anchor="start" font-weight="normal" textLength="49.8" lengthAdjust="spacingAndGlyphs"  stroke="#000" stroke-width="0.15">27 Oct 2021</text>
<rect x="325" y="565" width="1" height="3" fill="#000" />
<text x="324.5" y="577" font-size="9.4" fill="#000" text-anchor="start" font-weight="normal" textLength="52.8" lengthAdjust="spacingAndGlyphs"  stroke="#000" stroke-width="0.15">15 Nov 2021</text>
<rect x="389" y="565" width="1" height="3" fill="#000" />
<text x="388.5" y="577" font-size="9.4" fill="#000" text-anchor="start" font-weight="normal" textLength="45.9" lengthAdjust="spacingAndGlyphs"  stroke="#000" stroke-width="0.15">3 Dec 2021</text>
<rect x="453" y="565" width="1" height="3" fill="#000" />
<text x="452.5" y="577" font-size="9.4" fill="#000" text-anchor="start" font-weight="normal" textLength="50.8" lengthAdjust="spacingAndGlyphs"  stroke="#000" stroke-width="0.15">22 Dec 2021</text>
<rect x="517" y="565" width="1" height="3" fill="#000" />
<text x="516.5" y="577" font-size="9.4" fill="#000" text-anchor="start" font-weight="normal" textLength="49" lengthAdjust="spacingAndGlyphs"  stroke="#000" stroke-width="0.15">10 Jan 2022</text>
<rect x="581" y="565" width="1" height="3" fill="#000" />
<text x="580.5" y="577" font-size="9.4" fill="#000" text-anchor="start" font-weight="normal" textLength="49" lengthAdjust="spacingAndGlyphs"  stroke="#000" stroke-width="0.15">28 Jan 2022</text>
<rect x="645" y="565" width="1" height="3" fill="#000" />
<text x="644.5" y="577" font-size="9.4" fill="#000" text-anchor="start" font-weight="normal" textLength="51.3" lengthAdjust="spacingAndGlyphs"  stroke="#000" stroke-width="0.15">16 Feb 2022</text>
<rect x="709" y="565" width="1" height="3" fill="#000" />
<text x="708.5" y="577" font-size="9.4" fill="#000" text-anchor="start" font-weight="normal" textLength="45.9" lengthAdjust="spacingAndGlyphs"  stroke="#000" stroke-width="0.15">7 Mar 2022</text>
<rect x="773" y="565" width="1" height="3" fill="#000" />
<text x="772.5" y="577" font-size="9.4" fill="#000" text-anchor="start" font-weight="normal" textLength="51.3" lengthAdjust="spacingAndGlyphs"  stroke="#000" stroke-width="0.15">25 Mar 2022</text>
<rect x="837" y="565" width="1" height="3" fill="#000" />
<text x="836.5" y="577" font-size="9.4" fill="#000" text-anchor="start" font-weight="normal" textLength="50.3" lengthAdjust="spacingAndGlyphs"  stroke="#000" stroke-width="0.15">13 Apr 2022</text>
<rect x="901" y="565" width="1" height="3" fill="#000" />
<text x="900.5" y="577" font-size="9.4" fill="#000" text-anchor="start" font-weight="normal" textLength="47.8" lengthAdjust="spacingAndGlyphs"  stroke="#000" stroke-width="0.15">2 May 2022</text>
<rect x="0" y="585" width="1210" height="2" fill="#f0f0f0" />
<rect x="0" y="587" width="1210" height="1" fill="#000" />
<rect x="0" y="588" width="1210" height="19" fill="#f0f0f0" />
<rect x="0" y="607" width="1210" height="4" fill="#fafafa" />
<rect x="0" y="611" width="1210" height="1" fill="#a0a0a0" />
<rect x="0" y="588" width="1.4" height="18" fill="#9c9c9c" />
<clipPath id="ct"><rect x="0" y="588" width="1178" height="20"/></clipPath>
<g clip-path="url(#ct)">
<text x="17.5" y="602" font-size="11.6" fill="#7d7d7d" text-anchor="start" font-weight="normal" textLength="77.5" lengthAdjust="spacingAndGlyphs" >USDX,Weekly</text>
<text x="117.4" y="602" font-size="11.6" fill="#7d7d7d" text-anchor="start" font-weight="normal" textLength="84.3" lengthAdjust="spacingAndGlyphs" >EURUSD-,Daily</text>
<text x="224" y="602" font-size="11.6" fill="#7d7d7d" text-anchor="start" font-weight="normal" textLength="86.7" lengthAdjust="spacingAndGlyphs" >AUDUSD-,Daily</text>
<text x="334.5" y="602" font-size="11.6" fill="#7d7d7d" text-anchor="start" font-weight="normal" textLength="83" lengthAdjust="spacingAndGlyphs" >USDCHF-,Daily</text>
<text x="550.6" y="602" font-size="11.6" fill="#7d7d7d" text-anchor="start" font-weight="normal" textLength="87.3" lengthAdjust="spacingAndGlyphs" >USDCNH-,Daily</text>
<text x="660.5" y="602" font-size="11.6" fill="#7d7d7d" text-anchor="start" font-weight="normal" textLength="86.5" lengthAdjust="spacingAndGlyphs" >XAUUSD-,Daily</text>
<text x="768.6" y="602" font-size="11.6" fill="#7d7d7d" text-anchor="start" font-weight="normal" textLength="66" lengthAdjust="spacingAndGlyphs" >UKOil-,M30</text>
<text x="857.2" y="602" font-size="11.6" fill="#7d7d7d" text-anchor="start" font-weight="normal" textLength="77.3" lengthAdjust="spacingAndGlyphs" >DJ30-,Weekly</text>
<text x="956.9" y="602" font-size="11.6" fill="#7d7d7d" text-anchor="start" font-weight="normal" textLength="61.7" lengthAdjust="spacingAndGlyphs" >UK100-,H1</text>
<text x="1042.2" y="602" font-size="11.6" fill="#7d7d7d" text-anchor="start" font-weight="normal" textLength="68" lengthAdjust="spacingAndGlyphs" >USOil-,Daily</text>
<text x="1131.9" y="602" font-size="11.6" fill="#7d7d7d" text-anchor="start" font-weight="normal" textLength="52" lengthAdjust="spacingAndGlyphs" >HK50-,H1</text>
</g>
<rect x="106" y="591" width="1" height="13" fill="#808080" />
<rect x="214" y="591" width="1" height="13" fill="#808080" />
<rect x="322" y="591" width="1" height="13" fill="#808080" />
<rect x="650" y="591" width="1" height="13" fill="#808080" />
<rect x="758" y="591" width="1" height="13" fill="#808080" />
<rect x="846" y="591" width="1" height="13" fill="#808080" />
<rect x="946" y="591" width="1" height="13" fill="#808080" />
<rect x="1030" y="591" width="1" height="13" fill="#808080" />
<rect x="1122" y="591" width="1" height="13" fill="#808080" />
<rect x="430" y="587" width="109" height="19" fill="#fff" />
<rect x="430" y="587" width="1" height="19" fill="#000" />
<rect x="538" y="587" width="1" height="19" fill="#000" />
<rect x="430" y="605" width="109" height="1" fill="#000" />
<text x="441.4" y="602" font-size="11.6" fill="#000" text-anchor="start" font-weight="normal" textLength="85" lengthAdjust="spacingAndGlyphs"  stroke="#000" stroke-width="0.1">USDCAD-,Daily</text>
<path d="M1187 593.5 L1187 600.5 L1183.5 597 Z" fill="#a0a0a0"/>
<path d="M1201 592.5 L1201 601.5 L1205.5 597 Z" fill="#000"/></svg>
</body></html>
